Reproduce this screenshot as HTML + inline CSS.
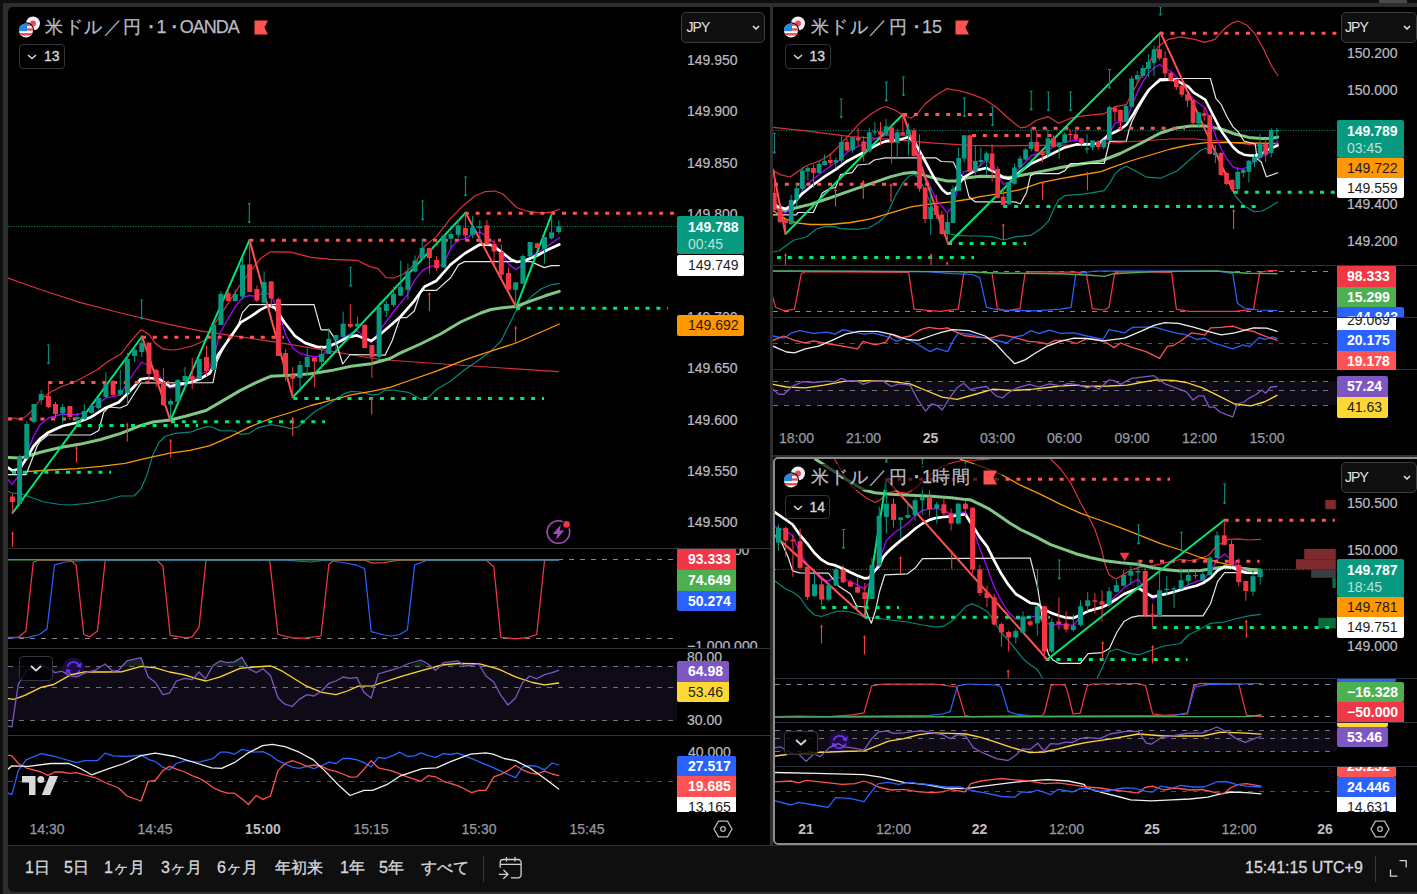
<!DOCTYPE html><html lang="ja"><head><meta charset="utf-8"><title>USDJPY chart</title><style>
*{margin:0;padding:0;box-sizing:border-box}
html,body{width:1417px;height:894px;overflow:hidden;background:#0f0f0f}
body{position:relative;font-family:"Liberation Sans",sans-serif;font-size:14px;color:#b8bbc4}
.abs{position:absolute}
.frame{left:3px;top:3px;width:1414px;height:891px;background:#2e2e2e}
.pane{background:#000}
.sep{height:1px;background:#2f3340}
.lb{position:absolute;padding-left:11px;font-size:14px;white-space:nowrap;overflow:hidden;border-radius:2px}
.rp .lb{padding-left:10px}
.ax{position:absolute;font-size:14px;color:#b9bbc1;-webkit-text-stroke:.2px #b9bbc1;white-space:nowrap;line-height:16px}
.tm{position:absolute;font-size:14px;color:#9699a3;white-space:nowrap;line-height:16px;transform:translateX(-50%);-webkit-text-stroke:.25px #9699a3}
.tm b{color:#bcbfc7;-webkit-text-stroke:0}
.title{position:absolute;font-size:18px;line-height:22px;color:#b9bbc4;white-space:nowrap;-webkit-text-stroke:.25px #b9bbc4}
.title .cj{letter-spacing:1.6px;display:inline-block;width:98px;overflow:hidden;vertical-align:top;height:22px}
.title .cj2{width:39px}
.title .la{letter-spacing:-1px}
.title i{font-style:normal;margin:0 2px 0 5.4px;font-weight:bold}
.lg{position:absolute;border:1px solid #34363e;border-radius:4px;color:#d5d7dd;font-size:14px;-webkit-text-stroke:.35px #d5d7dd;background:#000}
.jpy{position:absolute;border:1px solid #3c3c3c;border-radius:5px;background:#0f0f0f;color:#e3e5ea;font-size:14px;line-height:29px;padding-left:4.5px;letter-spacing:-.9px}
.tb{position:absolute;top:857px;font-size:16px;line-height:22px;color:#d5d7dd;white-space:nowrap;-webkit-text-stroke:.3px #d5d7dd}
</style></head><body>
<div class="abs" style="left:1379px;top:0;width:28px;height:3px;background:#4a4a4a"></div>
<div class="abs frame"></div>
<div class="abs pane" style="left:8px;top:7px;width:762px;height:838px;border-top-left-radius:5px"></div>
<div class="abs pane" style="left:773px;top:7px;width:644px;height:448px"></div>
<div class="abs pane" style="left:773px;top:457px;width:644px;height:388px"></div>
<div class="abs pane" style="left:773px;top:457px;width:650px;height:388px;border:2px solid #8c8c8c;border-radius:5px"></div>
<div class="abs" style="left:8px;top:846px;width:1409px;height:45.5px;background:#0f0f0f;border-bottom-left-radius:6px"></div>
<div class="abs sep" style="left:8px;top:548px;width:762px"></div>
<div class="abs sep" style="left:8px;top:648px;width:762px"></div>
<div class="abs sep" style="left:8px;top:735px;width:762px"></div>
<div class="abs sep" style="left:773px;top:265px;width:644px"></div>
<div class="abs sep" style="left:773px;top:317px;width:644px"></div>
<div class="abs sep" style="left:773px;top:369px;width:644px"></div>
<div class="abs sep" style="left:775px;top:678px;width:642px"></div>
<div class="abs sep" style="left:775px;top:722px;width:642px"></div>
<div class="abs sep" style="left:775px;top:766px;width:642px"></div>
<svg width="1417" height="894" viewBox="0 0 1417 894" style="position:absolute;left:0;top:0"><defs><clipPath id="cL1"><rect x="8" y="7" width="669" height="541"/></clipPath><clipPath id="cL2"><rect x="8" y="549" width="669" height="99"/></clipPath><clipPath id="cL3"><rect x="8" y="649" width="669" height="86"/></clipPath><clipPath id="cL4"><rect x="8" y="736" width="669" height="79"/></clipPath><clipPath id="cT1"><rect x="773" y="7" width="564" height="258.5"/></clipPath><clipPath id="cT2"><rect x="773" y="266" width="564" height="51"/></clipPath><clipPath id="cT3"><rect x="773" y="318" width="564" height="51.5"/></clipPath><clipPath id="cT4"><rect x="773" y="370.5" width="564" height="50"/></clipPath><clipPath id="cB1"><rect x="775" y="459" width="562" height="219"/></clipPath><clipPath id="cB2"><rect x="775" y="679" width="562" height="43"/></clipPath><clipPath id="cB3"><rect x="775" y="723" width="562" height="43.5"/></clipPath><clipPath id="cB4"><rect x="775" y="767.5" width="562" height="48"/></clipPath></defs><g clip-path="url(#cL1)"><path d="M8 226.6H677" stroke="#089981" stroke-width="1" stroke-dasharray="1 1.6"/><polyline points="8.0,418.3 14.0,418.0 20.0,419.3 26.0,416.7 32.0,410.3 40.0,400.0 52.4,391.0 60.4,387.0 76.5,381.0 96.7,370.0 108.8,361.0 120.8,354.0 131.0,340.8 141.0,329.8 149.0,334.4 155.0,342.9 163.0,348.9 171.2,350.0 180.0,349.0 192.0,346.0 204.0,341.0 214.0,324.7 226.0,306.6 240.4,284.5 249.5,272.4 260.6,258.3 270.6,251.8 290.8,252.2 311.0,257.3 331.0,259.3 357.0,260.3 370.0,266.6 378.0,268.6 386.0,277.7 394.0,278.0 404.0,273.7 414.3,264.6 424.4,246.5 436.5,236.4 450.6,218.3 462.6,206.2 474.7,196.0 484.8,191.7 494.9,191.0 503.0,194.0 511.0,202.0 517.0,207.8 527.0,211.2 541.2,213.2 551.3,212.2 559.3,209.2" fill="none" stroke="#e0303f" stroke-width="1.2" stroke-linejoin="round" stroke-linecap="round" /><polyline points="8.0,278.0 40.3,289.5 80.6,302.6 120.8,313.0 161.0,322.7 200.0,330.8 280.7,342.9 380.0,359.5 464.7,365.5 558.7,371.7" fill="none" stroke="#d92f3d" stroke-width="1.2" stroke-linejoin="round" stroke-linecap="round" /><polyline points="8.0,491.2 12.5,493.3 19.5,493.0 30.0,497.0 44.0,502.0 60.0,504.5 70.5,505.0 86.6,503.3 106.7,500.0 120.8,496.0 134.0,496.0 141.0,488.8 147.0,474.7 153.0,454.6 159.0,442.5 165.0,436.5 175.0,433.4 190.0,432.2 206.0,426.6 212.0,427.0 220.0,430.6 234.3,431.0 240.4,434.3 248.4,433.7 258.5,427.6 270.6,424.6 280.6,426.2 290.7,428.6 298.8,426.6 306.8,418.5 314.9,411.5 331.0,402.4 343.0,394.4 351.0,391.4 361.2,392.0 371.3,394.8 378.3,394.4 384.4,390.4 394.0,390.0 408.0,392.3 422.3,400.0 429.4,396.6 436.5,389.5 450.6,381.0 464.7,369.8 478.8,360.0 490.8,351.2 501.0,341.0 509.0,325.0 516.0,311.0 523.0,304.9 531.0,296.8 541.2,288.8 551.3,284.7 559.3,283.7" fill="none" stroke="#00897b" stroke-width="1.2" stroke-linejoin="round" stroke-linecap="round" /><polyline points="26.0,471.7 50.0,470.0 76.5,468.7 100.7,466.3 125.0,463.3 149.0,457.6 170.0,453.2 190.0,450.4 210.0,445.7 230.3,436.7 250.4,426.6 270.6,418.5 290.7,412.5 310.8,405.5 331.0,400.4 351.0,394.8 371.3,391.4 390.0,387.3 408.0,381.0 436.5,371.2 464.7,359.9 490.8,351.2 516.0,343.0 541.2,332.0 559.3,324.0" fill="none" stroke="#ff9800" stroke-width="1.3" stroke-linejoin="round" stroke-linecap="round" /><polyline points="8.0,457.6 20.0,458.0 26.4,456.6 40.3,452.2 60.4,447.5 80.6,444.1 100.7,439.5 120.8,433.4 141.0,425.4 153.0,422.0 170.2,420.0 185.3,416.3 206.0,410.5 220.0,402.4 240.4,390.4 256.5,382.3 270.6,376.3 290.7,375.2 310.8,373.8 331.0,370.6 351.0,366.2 371.3,363.8 390.0,358.5 400.0,353.2 420.4,344.0 440.5,334.0 460.6,322.0 480.8,313.0 490.8,309.5 501.0,308.0 516.0,306.5 531.0,300.8 545.2,295.8 559.3,291.4" fill="none" stroke="#81c784" stroke-width="3" stroke-linejoin="round" stroke-linecap="round" /><polyline points="8.0,479.8 12.0,484.4 19.5,474.7 26.4,454.6 33.4,436.5 40.3,424.4 48.3,418.0 62.4,414.0 76.5,414.7 84.6,412.3 91.2,409.3 98.3,403.8 105.3,398.2 120.2,395.2 129.0,380.0 141.6,362.0 149.0,366.0 156.0,371.0 163.0,381.0 170.0,388.0 177.0,387.0 191.0,383.0 200.0,374.0 206.0,372.0 213.0,361.0 220.0,332.8 228.0,318.7 235.4,306.6 242.4,297.5 249.5,295.5 256.5,296.5 263.6,292.5 270.6,294.5 278.7,310.6 285.7,334.8 292.8,347.9 300.8,353.9 315.0,357.0 322.0,355.0 329.0,348.9 336.0,342.9 343.0,337.8 357.0,330.4 364.3,336.8 371.3,342.9 380.0,330.0 394.0,311.0 407.3,294.8 414.3,280.7 422.4,270.6 429.4,266.6 443.5,264.6 450.6,248.5 457.6,240.4 465.7,238.4 472.7,234.4 479.8,232.0 486.8,236.4 493.9,242.4 501.0,252.5 509.0,264.6 516.0,269.6 523.0,264.6 530.0,258.5 537.2,252.5 544.2,248.5 551.3,243.4 559.3,237.4" fill="none" stroke="#aa00ff" stroke-width="1.3" stroke-linejoin="round" stroke-linecap="round" /><polyline points="8.0,474.7 26.0,474.7 37.0,446.5 40.0,441.5 48.0,435.0 90.6,435.0 98.7,430.4 103.7,412.3 108.8,407.0 120.0,408.0 127.0,405.0 141.0,383.0 213.0,382.7 217.3,361.0 228.3,338.8 238.4,324.7 242.4,312.6 249.5,304.6 314.0,304.6 321.0,329.8 329.0,329.8 335.0,338.8 342.7,364.0 350.0,354.5 385.0,355.2 392.0,341.0 400.0,318.0 407.0,317.4 414.3,311.0 420.4,292.8 423.4,290.4 436.5,290.4 450.6,277.7 458.6,264.6 464.7,261.6 531.0,261.6 544.2,267.6 551.3,265.6 559.3,265.6" fill="none" stroke="#e6e6e6" stroke-width="1.2" stroke-linejoin="round" stroke-linecap="round" stroke-linejoin="miter"/><polyline points="8.0,467.7 12.5,470.7 19.5,468.7 26.4,458.6 33.4,446.5 40.3,438.5 48.3,432.4 62.4,426.0 76.5,422.8 90.6,417.3 104.7,408.3 118.8,402.2 129.0,392.0 141.0,379.0 149.0,378.0 159.0,379.0 170.0,386.3 181.0,384.0 191.0,382.0 200.0,379.0 210.0,373.0 218.0,355.0 228.0,340.8 240.4,322.7 250.5,316.7 260.6,309.6 268.6,305.6 274.7,307.6 284.7,322.7 294.8,335.8 304.9,342.9 317.0,346.9 325.0,347.3 337.0,342.9 349.0,336.8 357.0,335.4 365.3,338.8 371.3,340.8 380.0,334.5 400.2,317.0 414.3,300.8 424.4,286.7 436.5,280.7 450.6,264.6 464.7,253.5 479.8,244.5 490.8,244.9 501.0,251.5 511.0,259.6 517.0,262.0 525.0,260.6 537.2,255.5 547.2,250.0 559.3,244.5" fill="none" stroke="#ffffff" stroke-width="2.7" stroke-linejoin="round" stroke-linecap="round" /><path d="M48.3 382.5H169.0" stroke="#ff5252" stroke-width="3" stroke-dasharray="4 6.8"/><path d="M8.0 419.0H76.5" stroke="#ff5252" stroke-width="3" stroke-dasharray="4 6.8"/><path d="M142.0 337.3H284.0" stroke="#ff5252" stroke-width="3" stroke-dasharray="4 6.8"/><path d="M249.5 240.2H501.0" stroke="#ff5252" stroke-width="3" stroke-dasharray="4 6.8"/><path d="M464.8 213.2H676.0" stroke="#ff5252" stroke-width="3" stroke-dasharray="4 6.8"/><path d="M12.0 472.3H111.0" stroke="#00e676" stroke-width="3" stroke-dasharray="4 6.8"/><path d="M77.0 425.5H198.0" stroke="#00e676" stroke-width="3" stroke-dasharray="4 6.8"/><path d="M171.0 421.7H325.0" stroke="#00e676" stroke-width="3" stroke-dasharray="4 6.8"/><path d="M293.5 398.5H544.0" stroke="#00e676" stroke-width="3" stroke-dasharray="4 6.8"/><path d="M516.0 308.3H668.0" stroke="#00e676" stroke-width="3" stroke-dasharray="4 6.8"/><polyline points="12.5,513.0 142.0,336.5" fill="none" stroke="#00e676" stroke-width="2" stroke-linejoin="round" stroke-linecap="round" /><polyline points="170.4,420.4 249.5,240.1" fill="none" stroke="#00e676" stroke-width="2" stroke-linejoin="round" stroke-linecap="round" /><polyline points="292.8,397.2 465.6,212.8" fill="none" stroke="#00e676" stroke-width="2" stroke-linejoin="round" stroke-linecap="round" /><polyline points="516.2,307.0 551.3,215.3" fill="none" stroke="#00e676" stroke-width="2" stroke-linejoin="round" stroke-linecap="round" /><polyline points="142.0,336.5 170.4,420.4" fill="none" stroke="#ff5252" stroke-width="2" stroke-linejoin="round" stroke-linecap="round" /><polyline points="249.5,240.1 292.8,397.2" fill="none" stroke="#ff5252" stroke-width="2" stroke-linejoin="round" stroke-linecap="round" /><polyline points="465.6,212.8 516.2,307.0" fill="none" stroke="#ff5252" stroke-width="2" stroke-linejoin="round" stroke-linecap="round" /><path d="M12.4 494.0V513.0" stroke="#f23645" stroke-width="1"/><rect x="9.9" y="496.5" width="5" height="5.5" fill="#f23645"/><path d="M19.6 454.6V506.5" stroke="#089981" stroke-width="1"/><rect x="17.1" y="456.6" width="5" height="47.4" fill="#089981"/><path d="M26.8 421.4V458.6" stroke="#089981" stroke-width="1"/><rect x="24.3" y="424.0" width="5" height="34.6" fill="#089981"/><path d="M34.0 404.0V423.4" stroke="#089981" stroke-width="1"/><rect x="31.5" y="404.0" width="5" height="18.0" fill="#089981"/><path d="M41.2 390.0V404.6" stroke="#089981" stroke-width="1"/><rect x="38.7" y="394.0" width="5" height="6.0" fill="#089981"/><path d="M48.4 382.0V408.0" stroke="#f23645" stroke-width="1"/><rect x="45.9" y="396.0" width="5" height="11.0" fill="#f23645"/><path d="M55.5 402.0V418.0" stroke="#f23645" stroke-width="1"/><rect x="53.0" y="404.0" width="5" height="10.0" fill="#f23645"/><path d="M62.7 404.0V423.0" stroke="#089981" stroke-width="1"/><rect x="60.2" y="407.0" width="5" height="6.0" fill="#089981"/><path d="M69.9 406.0V420.0" stroke="#f23645" stroke-width="1"/><rect x="67.4" y="406.0" width="5" height="11.0" fill="#f23645"/><path d="M77.1 413.0V425.0" stroke="#089981" stroke-width="1"/><rect x="74.6" y="417.0" width="5" height="2.0" fill="#089981"/><path d="M84.3 404.0V420.0" stroke="#089981" stroke-width="1"/><rect x="81.8" y="411.0" width="5" height="8.0" fill="#089981"/><path d="M91.5 405.0V413.5" stroke="#089981" stroke-width="1"/><rect x="89.0" y="406.0" width="5" height="7.0" fill="#089981"/><path d="M98.7 397.0V410.0" stroke="#089981" stroke-width="1"/><rect x="96.2" y="398.0" width="5" height="10.0" fill="#089981"/><path d="M105.9 372.0V398.0" stroke="#089981" stroke-width="1"/><rect x="103.4" y="383.7" width="5" height="13.3" fill="#089981"/><path d="M113.1 380.0V396.0" stroke="#f23645" stroke-width="1"/><rect x="110.6" y="381.0" width="5" height="14.0" fill="#f23645"/><path d="M120.3 370.0V395.0" stroke="#089981" stroke-width="1"/><rect x="117.8" y="390.0" width="5" height="4.6" fill="#089981"/><path d="M127.4 353.0V404.0" stroke="#089981" stroke-width="1"/><rect x="124.9" y="359.0" width="5" height="34.0" fill="#089981"/><path d="M134.6 347.0V362.0" stroke="#089981" stroke-width="1"/><rect x="132.1" y="350.0" width="5" height="6.0" fill="#089981"/><path d="M141.8 337.0V357.0" stroke="#089981" stroke-width="1"/><rect x="139.3" y="343.0" width="5" height="9.0" fill="#089981"/><path d="M149.0 342.5V381.0" stroke="#f23645" stroke-width="1"/><rect x="146.5" y="342.5" width="5" height="31.5" fill="#f23645"/><path d="M156.2 369.0V387.0" stroke="#f23645" stroke-width="1"/><rect x="153.7" y="370.0" width="5" height="11.0" fill="#f23645"/><path d="M163.4 368.0V406.0" stroke="#f23645" stroke-width="1"/><rect x="160.9" y="382.0" width="5" height="23.0" fill="#f23645"/><path d="M170.6 399.0V420.0" stroke="#089981" stroke-width="1"/><rect x="168.1" y="401.0" width="5" height="3.5" fill="#089981"/><path d="M177.8 379.0V402.0" stroke="#089981" stroke-width="1"/><rect x="175.3" y="380.0" width="5" height="22.0" fill="#089981"/><path d="M185.0 367.0V388.0" stroke="#089981" stroke-width="1"/><rect x="182.5" y="376.0" width="5" height="5.0" fill="#089981"/><path d="M192.2 358.0V389.0" stroke="#f23645" stroke-width="1"/><rect x="189.7" y="376.0" width="5" height="4.0" fill="#f23645"/><path d="M199.3 359.0V379.0" stroke="#089981" stroke-width="1"/><rect x="196.8" y="359.0" width="5" height="20.0" fill="#089981"/><path d="M206.5 346.0V376.0" stroke="#f23645" stroke-width="1"/><rect x="204.0" y="357.0" width="5" height="14.0" fill="#f23645"/><path d="M213.7 324.7V370.0" stroke="#089981" stroke-width="1"/><rect x="211.2" y="324.7" width="5" height="45.3" fill="#089981"/><path d="M220.9 291.0V325.0" stroke="#089981" stroke-width="1"/><rect x="218.4" y="294.0" width="5" height="31.0" fill="#089981"/><path d="M228.1 287.5V301.0" stroke="#f23645" stroke-width="1"/><rect x="225.6" y="293.0" width="5" height="8.0" fill="#f23645"/><path d="M235.3 289.5V301.0" stroke="#089981" stroke-width="1"/><rect x="232.8" y="294.0" width="5" height="7.0" fill="#089981"/><path d="M242.5 258.0V299.5" stroke="#089981" stroke-width="1"/><rect x="240.0" y="264.7" width="5" height="31.8" fill="#089981"/><path d="M249.7 240.0V292.0" stroke="#f23645" stroke-width="1"/><rect x="247.2" y="264.3" width="5" height="27.7" fill="#f23645"/><path d="M256.9 285.5V302.0" stroke="#f23645" stroke-width="1"/><rect x="254.4" y="289.0" width="5" height="11.6" fill="#f23645"/><path d="M264.1 271.4V303.6" stroke="#089981" stroke-width="1"/><rect x="261.6" y="282.0" width="5" height="20.6" fill="#089981"/><path d="M271.2 281.4V307.6" stroke="#f23645" stroke-width="1"/><rect x="268.7" y="281.4" width="5" height="17.1" fill="#f23645"/><path d="M278.4 297.5V356.0" stroke="#f23645" stroke-width="1"/><rect x="275.9" y="299.0" width="5" height="57.0" fill="#f23645"/><path d="M285.6 349.0V381.0" stroke="#f23645" stroke-width="1"/><rect x="283.1" y="353.0" width="5" height="21.0" fill="#f23645"/><path d="M292.8 367.0V397.0" stroke="#f23645" stroke-width="1"/><rect x="290.3" y="375.0" width="5" height="3.7" fill="#f23645"/><path d="M300.0 361.0V391.0" stroke="#089981" stroke-width="1"/><rect x="297.5" y="365.0" width="5" height="13.0" fill="#089981"/><path d="M307.2 348.0V375.0" stroke="#089981" stroke-width="1"/><rect x="304.7" y="357.0" width="5" height="10.0" fill="#089981"/><path d="M314.4 357.6V387.0" stroke="#f23645" stroke-width="1"/><rect x="311.9" y="357.6" width="5" height="4.0" fill="#f23645"/><path d="M321.6 347.0V369.0" stroke="#089981" stroke-width="1"/><rect x="319.1" y="354.0" width="5" height="8.0" fill="#089981"/><path d="M328.8 327.8V354.0" stroke="#089981" stroke-width="1"/><rect x="326.3" y="338.8" width="5" height="15.2" fill="#089981"/><path d="M335.9 335.0V351.0" stroke="#089981" stroke-width="1"/><rect x="333.4" y="335.0" width="5" height="5.0" fill="#089981"/><path d="M343.1 311.6V336.8" stroke="#089981" stroke-width="1"/><rect x="340.6" y="323.7" width="5" height="13.1" fill="#089981"/><path d="M350.3 304.0V328.0" stroke="#f23645" stroke-width="1"/><rect x="347.8" y="324.0" width="5" height="2.7" fill="#f23645"/><path d="M357.5 316.7V330.0" stroke="#089981" stroke-width="1"/><rect x="355.0" y="323.7" width="5" height="3.0" fill="#089981"/><path d="M364.7 324.7V348.0" stroke="#f23645" stroke-width="1"/><rect x="362.2" y="324.7" width="5" height="23.3" fill="#f23645"/><path d="M371.9 345.0V378.0" stroke="#f23645" stroke-width="1"/><rect x="369.4" y="345.0" width="5" height="12.0" fill="#f23645"/><path d="M379.1 302.6V359.0" stroke="#089981" stroke-width="1"/><rect x="376.6" y="307.0" width="5" height="50.0" fill="#089981"/><path d="M386.3 301.0V317.0" stroke="#089981" stroke-width="1"/><rect x="383.8" y="304.0" width="5" height="7.0" fill="#089981"/><path d="M393.5 286.7V307.0" stroke="#089981" stroke-width="1"/><rect x="391.0" y="293.8" width="5" height="11.2" fill="#089981"/><path d="M400.7 260.6V295.8" stroke="#089981" stroke-width="1"/><rect x="398.2" y="286.7" width="5" height="9.1" fill="#089981"/><path d="M407.9 263.6V300.0" stroke="#089981" stroke-width="1"/><rect x="405.4" y="271.6" width="5" height="18.2" fill="#089981"/><path d="M415.0 255.5V272.6" stroke="#089981" stroke-width="1"/><rect x="412.5" y="260.6" width="5" height="11.0" fill="#089981"/><path d="M422.2 238.4V259.5" stroke="#089981" stroke-width="1"/><rect x="419.7" y="248.0" width="5" height="11.0" fill="#089981"/><path d="M429.4 248.0V273.7" stroke="#f23645" stroke-width="1"/><rect x="426.9" y="248.0" width="5" height="10.0" fill="#f23645"/><path d="M436.6 256.0V271.0" stroke="#f23645" stroke-width="1"/><rect x="434.1" y="260.0" width="5" height="8.2" fill="#f23645"/><path d="M443.8 235.4V267.6" stroke="#089981" stroke-width="1"/><rect x="441.3" y="235.4" width="5" height="32.2" fill="#089981"/><path d="M451.0 231.4V247.5" stroke="#089981" stroke-width="1"/><rect x="448.5" y="234.0" width="5" height="4.8" fill="#089981"/><path d="M458.2 219.0V238.4" stroke="#089981" stroke-width="1"/><rect x="455.7" y="225.3" width="5" height="9.5" fill="#089981"/><path d="M465.4 213.0V241.4" stroke="#f23645" stroke-width="1"/><rect x="462.9" y="228.0" width="5" height="7.4" fill="#f23645"/><path d="M472.6 215.9V238.4" stroke="#089981" stroke-width="1"/><rect x="470.1" y="227.3" width="5" height="7.5" fill="#089981"/><path d="M479.8 219.9V242.4" stroke="#089981" stroke-width="1"/><rect x="477.2" y="226.3" width="5" height="1.7" fill="#089981"/><path d="M486.9 220.0V245.5" stroke="#f23645" stroke-width="1"/><rect x="484.4" y="225.3" width="5" height="19.2" fill="#f23645"/><path d="M494.1 239.4V265.6" stroke="#f23645" stroke-width="1"/><rect x="491.6" y="244.0" width="5" height="7.5" fill="#f23645"/><path d="M501.3 244.5V277.7" stroke="#f23645" stroke-width="1"/><rect x="498.8" y="252.0" width="5" height="22.7" fill="#f23645"/><path d="M508.5 267.6V290.4" stroke="#f23645" stroke-width="1"/><rect x="506.0" y="273.0" width="5" height="16.8" fill="#f23645"/><path d="M515.7 282.3V306.9" stroke="#089981" stroke-width="1"/><rect x="513.2" y="282.3" width="5" height="7.5" fill="#089981"/><path d="M522.9 254.0V283.7" stroke="#089981" stroke-width="1"/><rect x="520.4" y="256.0" width="5" height="27.7" fill="#089981"/><path d="M530.1 242.0V256.5" stroke="#089981" stroke-width="1"/><rect x="527.6" y="242.0" width="5" height="14.5" fill="#089981"/><path d="M537.3 242.4V251.5" stroke="#f23645" stroke-width="1"/><rect x="534.8" y="243.4" width="5" height="4.6" fill="#f23645"/><path d="M544.5 237.0V263.6" stroke="#089981" stroke-width="1"/><rect x="542.0" y="237.0" width="5" height="11.9" fill="#089981"/><path d="M551.6 215.2V239.4" stroke="#089981" stroke-width="1"/><rect x="549.1" y="232.4" width="5" height="6.0" fill="#089981"/><path d="M558.8 220.3V234.0" stroke="#089981" stroke-width="1"/><rect x="556.3" y="226.3" width="5" height="5.7" fill="#089981"/><path d="M48.5 345.0V363.0M47.0 345.0h3" stroke="#0a8a80" stroke-width="1.1"/><circle cx="48.5" cy="363.0" r="1.3" fill="#0a8a80"/><path d="M141.6 300.0V318.3M140.1 300.0h3" stroke="#0a8a80" stroke-width="1.1"/><circle cx="141.6" cy="318.3" r="1.3" fill="#0a8a80"/><path d="M249.3 203.6V222.0M247.8 203.6h3" stroke="#0a8a80" stroke-width="1.1"/><circle cx="249.3" cy="222.0" r="1.3" fill="#0a8a80"/><path d="M350.6 267.3V285.5M349.1 267.3h3" stroke="#0a8a80" stroke-width="1.1"/><circle cx="350.6" cy="285.5" r="1.3" fill="#0a8a80"/><path d="M422.6 201.0V219.3M421.1 201.0h3" stroke="#0a8a80" stroke-width="1.1"/><circle cx="422.6" cy="219.3" r="1.3" fill="#0a8a80"/><path d="M465.5 177.0V195.0M464.0 177.0h3" stroke="#0a8a80" stroke-width="1.1"/><circle cx="465.5" cy="195.0" r="1.3" fill="#0a8a80"/><path d="M12.5 532.0V547.0" stroke="#f44336" stroke-width="1.1"/><path d="M11.1 534.2L12.5 531.4L13.9 534.2Z" fill="#f44336"/><path d="M76.5 446.5V462.6" stroke="#f44336" stroke-width="1.1"/><path d="M75.1 448.7L76.5 445.9L77.9 448.7Z" fill="#f44336"/><path d="M127.3 423.4V441.5" stroke="#f44336" stroke-width="1.1"/><path d="M125.9 425.6L127.3 422.8L128.7 425.6Z" fill="#f44336"/><path d="M170.6 439.5V457.6" stroke="#f44336" stroke-width="1.1"/><path d="M169.2 441.7L170.6 438.9L172.0 441.7Z" fill="#f44336"/><path d="M292.7 417.5V435.7" stroke="#f44336" stroke-width="1.1"/><path d="M291.3 419.7L292.7 416.9L294.1 419.7Z" fill="#f44336"/><path d="M371.7 397.4V414.5" stroke="#f44336" stroke-width="1.1"/><path d="M370.3 399.6L371.7 396.8L373.1 399.6Z" fill="#f44336"/><path d="M429.4 292.8V311.0" stroke="#f44336" stroke-width="1.1"/><path d="M428.0 295.0L429.4 292.2L430.8 295.0Z" fill="#f44336"/><path d="M515.6 326.6V344.0" stroke="#f44336" stroke-width="1.1"/><path d="M514.2 328.8L515.6 326.0L517.0 328.8Z" fill="#f44336"/><circle cx="558.4" cy="532" r="11.3" fill="none" stroke="#ab47bc" stroke-width="1.5"/><path d="M561 524.5L552.8 534h4.6l-1.4 6 8.2-9.5h-4.6z" fill="#ab47bc"/><circle cx="566.6" cy="524.4" r="4.6" fill="#000"/><circle cx="566.6" cy="524.4" r="3.3" fill="#f23645"/></g><g clip-path="url(#cL2)"><path d="M8 559.5H673" stroke="#83868f" stroke-width="1" stroke-dasharray="5 6" shape-rendering="crispEdges"/><path d="M8 638.5H673" stroke="#83868f" stroke-width="1" stroke-dasharray="5 6" shape-rendering="crispEdges"/><polyline points="8.0,637.3 18.3,637.3 26.0,630.9 33.3,562.0 39.5,560.0 70.6,560.0 76.2,565.4 83.8,634.5 89.8,636.8 97.4,630.9 105.3,560.0 156.7,560.0 162.9,566.0 170.2,635.4 186.3,637.9 192.0,636.8 199.0,627.5 206.0,560.0 269.6,560.0 278.0,634.5 293.6,638.2 304.9,638.2 321.0,636.0 328.9,564.0 334.5,560.0 364.0,560.0 372.6,563.1 384.0,562.6 400.0,560.0 485.9,560.0 493.8,566.8 500.8,637.3 515.5,638.8 528.2,637.3 536.7,634.5 544.6,560.0 558.7,559.8" fill="none" stroke="#f23645" stroke-width="1.25" stroke-linejoin="round" stroke-linecap="round" /><polyline points="8.0,638.0 28.2,637.3 39.5,634.5 47.0,629.0 54.5,564.8 65.0,562.0 90.3,560.0 282.3,560.0 310.5,562.0 327.5,560.0 338.7,562.0 355.7,564.8 364.7,568.8 371.2,631.7 384.0,635.0 391.3,636.0 399.8,634.5 407.4,629.7 414.7,564.8 428.0,560.0 558.7,560.0" fill="none" stroke="#2962ff" stroke-width="1.25" stroke-linejoin="round" stroke-linecap="round" /><polyline points="8.0,559.8 558.7,559.8" fill="none" stroke="#43a047" stroke-width="1.4" stroke-linejoin="round" stroke-linecap="round" /></g><g clip-path="url(#cL3)"><rect x="8" y="666" width="669" height="54.5" fill="#0e0a16"/><path d="M8 666.5H673" stroke="#70737d" stroke-width="1" stroke-dasharray="5 6" shape-rendering="crispEdges"/><path d="M8 687.5H673" stroke="#70737d" stroke-width="1" stroke-dasharray="5 6" shape-rendering="crispEdges"/><path d="M8 720.5H673" stroke="#70737d" stroke-width="1" stroke-dasharray="5 6" shape-rendering="crispEdges"/><circle cx="73.6" cy="668.3" r="10.6" fill="#1b0c3d"/><path d="M67.61 666.70A6.2 6.2 0 0 1 79.22 665.68M79.59 669.90A6.2 6.2 0 0 1 67.98 670.92" fill="none" stroke="#6b2ff5" stroke-width="1.8"/><path d="M81.82 662.48L80.82 667.88L75.82 666.08Z" fill="#6b2ff5"/><path d="M65.38 674.12L66.38 668.72L71.38 670.52Z" fill="#6b2ff5"/><path d="M120.5 666L127 660.8L141 657.7L143.8 666ZM213.5 666L220.2 660.8L227.2 662.7L234.3 661.9L242 657.4L247 666ZM410 666L421 660L426 666ZM439 666L443.5 662.7L457.6 660.8L464.7 666Z" fill="#10261a"/><polyline points="8.0,698.6 14.0,699.4 25.4,695.2 41.0,687.3 53.6,684.5 70.6,674.9 84.7,671.8 104.4,672.0 121.4,671.8 141.0,666.4 155.3,667.8 169.4,672.0 183.5,674.6 197.6,678.8 206.0,681.0 220.2,676.9 240.0,668.4 254.0,667.0 271.0,666.0 282.3,671.2 304.9,685.3 321.8,692.4 336.0,694.6 347.2,691.0 358.5,686.2 372.6,685.9 384.0,682.0 399.8,676.9 422.3,670.4 442.0,665.0 459.0,663.3 478.8,663.6 498.6,669.2 515.5,676.9 532.4,682.5 544.6,684.8 558.7,683.0" fill="none" stroke="#fdd835" stroke-width="1.3" stroke-linejoin="round" stroke-linecap="round" /><polyline points="8.0,726.2 11.9,726.8 18.3,684.0 26.8,670.4 41.0,664.0 55.0,672.6 62.0,671.2 69.0,675.4 76.2,676.9 84.7,673.2 96.0,669.8 105.0,664.0 113.0,671.2 118.6,670.4 127.0,660.8 141.0,657.7 148.2,676.9 155.3,682.5 162.9,694.6 169.4,693.2 176.4,681.0 184.9,678.3 192.0,679.7 199.0,672.0 205.5,678.8 213.0,665.6 220.2,660.8 227.2,662.7 234.3,661.9 242.0,657.4 248.4,668.4 256.3,672.6 263.0,668.7 270.4,675.4 278.0,698.0 285.0,704.2 292.2,706.5 299.2,699.4 307.0,694.6 314.0,696.0 321.8,691.0 328.9,683.3 336.0,681.0 343.0,677.0 350.0,678.3 357.0,677.4 364.0,692.4 371.2,698.0 378.3,674.0 389.6,670.6 399.8,667.5 407.4,664.0 421.0,660.0 428.0,664.0 435.6,670.4 443.5,662.7 457.6,660.8 464.7,666.0 478.8,664.0 485.9,676.0 493.8,682.0 500.8,695.2 507.9,705.0 515.5,698.0 522.6,682.5 529.6,676.0 536.7,678.8 544.6,674.6 552.2,672.6 558.7,670.4" fill="none" stroke="#7e57c2" stroke-width="1.3" stroke-linejoin="round" stroke-linecap="round" /></g><g clip-path="url(#cL4)"><path d="M8 781.5H673" stroke="#4e515b" stroke-width="1" stroke-dasharray="5 6" shape-rendering="crispEdges"/><polyline points="8.0,793.2 11.9,794.6 18.3,770.6 26.0,759.9 41.0,753.7 55.0,756.5 76.2,762.7 84.7,760.7 97.4,760.7 105.0,753.1 113.0,755.9 127.0,756.5 141.0,755.1 148.2,759.3 155.3,761.6 162.9,767.2 169.4,770.0 176.4,763.5 184.9,760.7 199.0,762.1 213.0,758.7 220.2,752.2 227.2,752.2 234.3,754.2 242.0,749.4 254.0,752.2 263.0,751.7 270.4,755.1 278.0,760.7 292.2,767.2 299.2,768.3 307.0,766.4 314.0,768.6 321.8,765.5 328.9,762.1 336.0,763.5 343.0,758.5 350.0,758.5 357.0,759.9 364.0,762.7 371.2,766.9 378.3,757.3 385.3,758.5 393.8,755.1 399.8,752.2 407.4,756.5 414.7,755.9 421.0,752.8 428.0,755.6 435.6,757.3 443.5,753.7 450.6,754.5 457.6,753.1 464.7,755.6 478.8,761.6 493.8,767.8 507.9,774.3 515.5,777.7 522.6,767.2 529.6,765.5 536.7,766.4 544.6,769.8 552.2,763.0 558.7,765.0" fill="none" stroke="#2962ff" stroke-width="1.3" stroke-linejoin="round" stroke-linecap="round" /><polyline points="8.0,755.1 11.9,755.9 18.3,763.5 26.0,767.8 41.0,772.0 48.0,775.4 55.0,772.0 62.0,772.0 69.0,773.4 76.2,772.6 84.7,774.8 97.4,778.5 105.0,782.5 118.6,788.0 127.0,796.0 141.0,801.0 148.2,781.3 155.3,780.5 162.9,770.6 169.4,766.4 176.4,769.2 184.9,772.0 192.0,775.7 199.0,778.2 205.5,781.9 213.0,787.5 220.2,790.9 227.2,793.2 234.3,793.2 242.0,798.8 248.4,804.5 256.3,795.5 263.0,799.4 270.4,796.0 278.0,770.6 285.0,763.5 292.2,760.7 299.2,763.0 307.0,766.4 314.0,765.0 321.8,766.4 328.9,769.8 336.0,771.4 343.0,774.0 350.0,777.1 357.0,776.8 364.0,769.2 371.2,760.7 378.3,767.8 392.7,771.2 407.4,776.8 421.0,781.3 428.0,775.7 435.6,776.8 443.5,781.3 457.6,785.6 464.7,789.0 471.7,792.6 478.8,790.4 485.9,790.4 493.8,776.8 500.8,774.3 507.9,770.6 515.5,765.5 522.6,769.8 529.6,772.9 536.7,774.0 544.6,771.2 552.2,774.0 558.7,775.7" fill="none" stroke="#ff5252" stroke-width="1.3" stroke-linejoin="round" stroke-linecap="round" /><polyline points="8.0,769.2 11.9,765.8 28.2,766.4 50.8,763.5 69.0,763.5 79.0,767.8 91.7,774.8 107.3,769.2 124.2,763.5 141.0,755.6 155.3,753.1 175.0,756.5 197.6,763.5 211.7,767.8 221.6,768.3 234.3,762.7 248.4,752.8 262.5,745.7 272.4,744.3 285.0,746.6 299.2,752.2 313.3,759.9 324.6,770.6 338.7,785.3 350.0,795.5 364.0,790.4 372.6,790.4 386.7,784.7 399.8,776.2 422.3,768.6 436.5,767.8 450.6,761.6 470.3,754.2 485.9,752.8 493.0,754.2 504.2,758.5 515.5,760.7 529.6,767.8 543.7,777.7 558.7,789.0" fill="none" stroke="#f0f0f0" stroke-width="1.3" stroke-linejoin="round" stroke-linecap="round" /></g><g clip-path="url(#cT1)"><path d="M773 130.4H1337" stroke="#089981" stroke-width="1" stroke-dasharray="1 1.6"/><polyline points="773.0,170.6 780.0,174.6 790.0,177.0 798.0,171.6 806.0,166.0 820.4,160.5 830.4,154.5 840.5,144.4 850.6,133.3 860.6,122.2 870.7,114.2 880.8,108.0 885.8,106.5 894.9,110.0 903.0,115.2 911.0,118.2 917.0,114.2 925.0,104.0 935.0,96.0 943.2,91.0 946.8,88.7 960.0,91.0 972.0,94.4 984.0,99.0 996.0,107.0 1008.3,118.2 1020.4,127.9 1026.5,126.9 1036.5,120.2 1047.8,116.6 1058.7,123.2 1070.8,118.2 1082.9,115.8 1101.0,113.8 1104.0,113.8 1115.2,106.7 1126.3,104.7 1132.3,92.6 1142.4,74.5 1150.4,60.4 1158.5,46.3 1168.5,39.3 1180.6,36.9 1194.7,39.3 1204.8,42.3 1214.9,39.3 1225.0,28.2 1233.0,22.6 1238.0,21.0 1247.0,25.2 1255.2,34.2 1263.2,48.3 1271.3,65.5 1277.7,75.5" fill="none" stroke="#e0303f" stroke-width="1.2" stroke-linejoin="round" stroke-linecap="round" /><polyline points="773.0,127.3 810.3,131.3 850.6,136.7 890.8,139.3 931.0,142.8 970.0,145.4 1000.3,145.8 1040.6,145.4 1080.8,144.8 1110.0,143.0 1140.4,141.0 1170.6,139.0 1194.7,139.0 1221.0,141.0 1251.0,144.6 1277.7,147.0" fill="none" stroke="#d92f3d" stroke-width="1.2" stroke-linejoin="round" stroke-linecap="round" /><polyline points="773.0,252.0 779.0,251.0 785.5,246.0 794.2,240.0 806.3,237.0 816.3,229.0 824.4,226.6 834.5,226.6 840.5,228.6 856.6,229.4 868.7,228.0 878.8,222.0 886.8,214.9 894.9,196.7 903.0,182.6 909.0,176.2 914.2,174.2 919.2,178.6 925.3,190.7 931.3,204.8 936.4,214.9 942.4,229.0 949.3,234.0 957.3,235.4 970.0,236.0 980.0,236.0 992.2,236.6 1003.3,240.0 1016.4,236.6 1030.5,235.4 1040.6,229.0 1048.6,220.9 1054.7,206.8 1058.7,199.8 1064.7,195.7 1080.8,194.3 1093.0,192.7 1104.2,190.7 1109.4,183.7 1115.3,173.6 1120.2,169.2 1126.3,166.2 1136.3,171.2 1146.4,177.2 1160.5,178.2 1176.6,171.2 1190.7,159.0 1199.8,151.0 1205.8,148.0 1210.9,152.0 1215.6,152.0 1220.7,164.6 1227.2,180.0 1235.0,195.5 1244.0,205.8 1254.2,211.7 1262.0,211.0 1269.6,207.0 1277.6,202.0" fill="none" stroke="#00897b" stroke-width="1.2" stroke-linejoin="round" stroke-linecap="round" /><polyline points="773.0,210.8 785.5,218.9 796.6,222.9 810.3,224.5 830.4,224.5 850.6,222.5 870.7,218.9 890.8,212.9 911.0,206.8 931.0,203.8 951.3,201.8 970.0,199.0 980.0,196.7 1000.3,193.7 1020.4,189.7 1040.6,182.6 1060.7,178.6 1080.8,175.0 1101.0,171.6 1110.0,168.2 1130.3,161.0 1150.4,155.0 1170.6,149.0 1190.7,144.6 1206.8,142.6 1231.0,142.6 1251.0,143.0 1277.7,143.4" fill="none" stroke="#ff9800" stroke-width="1.3" stroke-linejoin="round" stroke-linecap="round" /><polyline points="773.0,205.8 785.5,210.8 796.2,207.8 810.3,204.4 830.4,197.8 850.6,190.7 870.7,183.7 890.8,176.6 903.0,173.6 914.2,172.2 925.3,175.6 936.4,178.6 947.2,181.0 955.3,181.0 963.4,178.6 970.0,177.6 980.0,176.2 997.7,176.6 1009.0,177.6 1020.4,175.6 1040.6,171.6 1060.7,167.5 1080.8,164.0 1101.0,161.0 1120.2,153.5 1140.4,143.5 1160.5,133.0 1176.6,127.9 1190.7,125.9 1204.8,125.9 1221.0,129.0 1235.0,134.0 1249.0,137.4 1261.2,138.6 1271.3,138.6 1277.7,137.0" fill="none" stroke="#81c784" stroke-width="3" stroke-linejoin="round" stroke-linecap="round" /><polyline points="773.0,206.8 780.0,210.8 785.5,212.9 791.0,208.8 796.6,200.8 802.2,190.7 807.7,183.7 818.9,174.6 830.0,166.5 841.0,159.5 846.7,152.4 857.8,146.4 868.9,142.0 880.0,136.7 891.0,134.7 903.0,135.3 911.0,136.0 916.0,142.4 919.2,156.5 925.3,176.6 931.3,188.7 936.4,199.8 942.4,206.8 947.2,212.9 953.3,205.8 958.3,186.7 963.4,171.6 970.0,170.6 975.3,170.2 981.0,164.5 986.4,160.5 992.2,163.5 997.7,174.6 1003.3,184.3 1009.0,182.6 1014.4,173.6 1020.0,167.5 1025.7,162.0 1031.3,155.5 1042.6,152.8 1048.2,150.0 1053.9,146.4 1064.9,142.0 1076.2,140.0 1087.5,144.0 1098.6,144.4 1104.2,143.4 1109.5,133.0 1115.2,122.9 1126.3,120.8 1132.3,104.7 1137.7,91.6 1143.4,80.6 1149.0,72.5 1154.5,67.5 1160.0,64.5 1165.5,68.5 1171.2,71.5 1177.0,77.5 1182.6,84.6 1188.3,92.6 1193.7,99.7 1199.4,103.7 1205.2,107.8 1210.4,120.8 1216.0,137.0 1221.3,149.0 1227.0,159.0 1233.0,166.8 1238.4,168.8 1244.0,168.8 1249.5,165.2 1255.2,161.0 1260.6,156.0 1266.4,155.0 1272.3,150.0 1277.7,141.0" fill="none" stroke="#aa00ff" stroke-width="1.3" stroke-linejoin="round" stroke-linecap="round" /><polyline points="773.0,214.9 796.0,214.9 798.0,212.5 813.3,212.5 822.4,192.7 830.4,188.3 835.5,187.7 840.5,174.6 852.2,172.6 857.8,165.0 868.9,164.0 874.3,160.0 885.4,157.9 936.2,157.9 941.2,161.5 953.3,162.0 957.3,170.6 964.4,178.6 969.0,196.7 975.0,201.8 1014.4,201.8 1020.4,203.8 1026.5,192.7 1030.5,175.6 1034.5,173.6 1058.7,173.6 1064.9,170.6 1070.6,163.5 1104.2,163.5 1109.5,141.4 1126.3,141.0 1129.3,129.0 1132.3,120.8 1137.7,110.0 1143.4,100.0 1149.0,91.0 1154.5,84.0 1160.0,78.5 1210.4,78.5 1216.0,98.7 1221.3,104.7 1227.0,116.8 1233.0,126.9 1238.4,132.0 1244.0,141.0 1255.2,144.0 1257.2,159.0 1261.2,162.0 1266.4,176.8 1277.7,172.8" fill="none" stroke="#e6e6e6" stroke-width="1.2" stroke-linejoin="round" stroke-linecap="round" stroke-linejoin="miter"/><polyline points="773.0,202.8 778.0,206.8 785.5,208.8 791.0,205.8 796.6,199.8 802.2,193.7 813.3,184.7 824.4,176.6 835.5,169.6 846.5,161.5 857.8,155.5 868.9,149.4 880.0,143.4 885.4,141.4 896.5,140.4 908.2,137.3 914.2,141.4 919.2,150.4 925.3,161.5 931.3,172.6 936.4,181.6 942.4,189.7 947.2,193.7 953.3,192.7 958.3,184.7 964.4,177.0 975.3,170.6 986.4,168.0 997.7,173.6 1003.3,177.6 1009.0,178.6 1014.4,176.6 1020.0,171.6 1031.3,163.5 1042.6,158.5 1053.9,152.8 1064.9,147.4 1076.2,144.4 1087.5,144.4 1098.6,143.4 1104.0,139.0 1109.0,134.5 1115.2,132.0 1120.8,129.0 1126.3,124.9 1132.3,115.8 1137.7,106.7 1143.4,97.7 1149.0,89.6 1154.5,84.6 1160.0,80.2 1171.2,79.6 1178.6,81.6 1188.3,86.6 1193.7,92.6 1205.2,99.7 1210.4,109.8 1216.0,120.8 1221.3,131.0 1227.0,139.0 1233.0,147.0 1238.4,152.0 1244.0,154.7 1249.5,155.5 1255.2,155.5 1261.2,154.0 1267.2,150.0 1277.7,145.4" fill="none" stroke="#ffffff" stroke-width="2.6" stroke-linejoin="round" stroke-linecap="round" /><path d="M774.0 184.3H929.0" stroke="#ff5252" stroke-width="3" stroke-dasharray="4 6.8"/><path d="M903.0 114.6H992.0" stroke="#ff5252" stroke-width="3" stroke-dasharray="4 6.8"/><path d="M972.0 135.5H1055.0" stroke="#ff5252" stroke-width="3" stroke-dasharray="4 6.8"/><path d="M1032.0 128.3H1185.0" stroke="#ff5252" stroke-width="3" stroke-dasharray="4 6.8"/><path d="M1159.6 33.2H1338.0" stroke="#ff5252" stroke-width="3" stroke-dasharray="4 6.8"/><path d="M777.0 257.6H974.0" stroke="#00e676" stroke-width="3" stroke-dasharray="4 6.8"/><path d="M948.0 243.5H1026.0" stroke="#00e676" stroke-width="3" stroke-dasharray="4 6.8"/><path d="M1003.3 206.4H1256.0" stroke="#00e676" stroke-width="3" stroke-dasharray="4 6.8"/><path d="M1233.6 192.3H1336.0" stroke="#00e676" stroke-width="3" stroke-dasharray="4 6.8"/><polyline points="785.5,234.0 903.0,114.2" fill="none" stroke="#00e676" stroke-width="2" stroke-linejoin="round" stroke-linecap="round" /><polyline points="948.2,244.0 1160.5,32.6" fill="none" stroke="#00e676" stroke-width="2" stroke-linejoin="round" stroke-linecap="round" /><polyline points="773.0,169.6 785.5,234.0" fill="none" stroke="#ff5252" stroke-width="2" stroke-linejoin="round" stroke-linecap="round" /><polyline points="903.0,114.2 948.2,244.0" fill="none" stroke="#ff5252" stroke-width="2" stroke-linejoin="round" stroke-linecap="round" /><polyline points="1160.5,32.6 1233.6,191.6" fill="none" stroke="#ff5252" stroke-width="2" stroke-linejoin="round" stroke-linecap="round" /><path d="M774.4 170.6V210.8" stroke="#f23645" stroke-width="1"/><rect x="772.0" y="192.7" width="4.7" height="17.1" fill="#f23645"/><path d="M780.0 207.8V223.0" stroke="#f23645" stroke-width="1"/><rect x="777.6" y="208.8" width="4.7" height="13.2" fill="#f23645"/><path d="M785.6 219.0V234.0" stroke="#f23645" stroke-width="1"/><rect x="783.2" y="219.0" width="4.7" height="4.0" fill="#f23645"/><path d="M791.1 194.7V225.0" stroke="#089981" stroke-width="1"/><rect x="788.8" y="199.8" width="4.7" height="24.2" fill="#089981"/><path d="M796.7 183.7V206.8" stroke="#089981" stroke-width="1"/><rect x="794.4" y="188.3" width="4.7" height="11.5" fill="#089981"/><path d="M802.3 167.5V190.7" stroke="#089981" stroke-width="1"/><rect x="800.0" y="170.6" width="4.7" height="18.1" fill="#089981"/><path d="M807.9 166.5V180.6" stroke="#089981" stroke-width="1"/><rect x="805.5" y="168.0" width="4.7" height="3.6" fill="#089981"/><path d="M813.5 164.5V187.7" stroke="#f23645" stroke-width="1"/><rect x="811.1" y="168.0" width="4.7" height="5.0" fill="#f23645"/><path d="M819.1 160.5V173.6" stroke="#089981" stroke-width="1"/><rect x="816.7" y="164.0" width="4.7" height="9.0" fill="#089981"/><path d="M824.6 154.5V165.5" stroke="#089981" stroke-width="1"/><rect x="822.3" y="160.9" width="4.7" height="4.1" fill="#089981"/><path d="M830.2 153.4V165.5" stroke="#f23645" stroke-width="1"/><rect x="827.9" y="160.0" width="4.7" height="3.0" fill="#f23645"/><path d="M835.8 157.5V168.5" stroke="#089981" stroke-width="1"/><rect x="833.5" y="160.0" width="4.7" height="2.5" fill="#089981"/><path d="M841.4 136.0V164.5" stroke="#089981" stroke-width="1"/><rect x="839.0" y="142.0" width="4.7" height="18.5" fill="#089981"/><path d="M847.0 138.3V151.4" stroke="#f23645" stroke-width="1"/><rect x="844.6" y="142.0" width="4.7" height="8.4" fill="#f23645"/><path d="M852.5 137.3V152.8" stroke="#089981" stroke-width="1"/><rect x="850.2" y="137.3" width="4.7" height="12.7" fill="#089981"/><path d="M858.1 128.0V145.4" stroke="#f23645" stroke-width="1"/><rect x="855.8" y="138.0" width="4.7" height="2.4" fill="#f23645"/><path d="M863.7 136.3V161.5" stroke="#f23645" stroke-width="1"/><rect x="861.4" y="141.4" width="4.7" height="10.6" fill="#f23645"/><path d="M869.3 128.0V152.4" stroke="#089981" stroke-width="1"/><rect x="866.9" y="132.3" width="4.7" height="19.1" fill="#089981"/><path d="M874.9 122.0V135.3" stroke="#089981" stroke-width="1"/><rect x="872.5" y="131.3" width="4.7" height="1.4" fill="#089981"/><path d="M880.5 122.0V145.4" stroke="#f23645" stroke-width="1"/><rect x="878.1" y="131.3" width="4.7" height="3.4" fill="#f23645"/><path d="M886.0 119.0V135.3" stroke="#089981" stroke-width="1"/><rect x="883.7" y="126.3" width="4.7" height="8.4" fill="#089981"/><path d="M891.6 124.0V163.5" stroke="#f23645" stroke-width="1"/><rect x="889.3" y="127.3" width="4.7" height="15.5" fill="#f23645"/><path d="M897.2 129.0V158.5" stroke="#089981" stroke-width="1"/><rect x="894.9" y="132.3" width="4.7" height="10.5" fill="#089981"/><path d="M902.8 114.0V135.3" stroke="#f23645" stroke-width="1"/><rect x="900.4" y="132.3" width="4.7" height="2.4" fill="#f23645"/><path d="M908.4 123.0V155.5" stroke="#089981" stroke-width="1"/><rect x="906.0" y="129.3" width="4.7" height="5.4" fill="#089981"/><path d="M913.9 128.3V156.5" stroke="#f23645" stroke-width="1"/><rect x="911.6" y="130.3" width="4.7" height="25.7" fill="#f23645"/><path d="M919.5 134.3V191.7" stroke="#f23645" stroke-width="1"/><rect x="917.2" y="154.5" width="4.7" height="34.2" fill="#f23645"/><path d="M925.1 186.7V223.0" stroke="#f23645" stroke-width="1"/><rect x="922.8" y="187.7" width="4.7" height="31.3" fill="#f23645"/><path d="M930.7 186.7V235.0" stroke="#089981" stroke-width="1"/><rect x="928.3" y="206.8" width="4.7" height="12.2" fill="#089981"/><path d="M936.3 194.7V219.0" stroke="#f23645" stroke-width="1"/><rect x="933.9" y="205.8" width="4.7" height="9.1" fill="#f23645"/><path d="M941.9 210.8V235.0" stroke="#f23645" stroke-width="1"/><rect x="939.5" y="214.5" width="4.7" height="19.5" fill="#f23645"/><path d="M947.4 213.9V243.0" stroke="#089981" stroke-width="1"/><rect x="945.1" y="222.0" width="4.7" height="12.0" fill="#089981"/><path d="M953.0 185.7V223.0" stroke="#089981" stroke-width="1"/><rect x="950.7" y="188.7" width="4.7" height="34.3" fill="#089981"/><path d="M958.6 147.4V190.7" stroke="#089981" stroke-width="1"/><rect x="956.3" y="158.0" width="4.7" height="32.7" fill="#089981"/><path d="M964.2 135.3V162.5" stroke="#089981" stroke-width="1"/><rect x="961.8" y="135.3" width="4.7" height="23.2" fill="#089981"/><path d="M969.8 134.5V172.5" stroke="#f23645" stroke-width="1"/><rect x="967.4" y="135.3" width="4.7" height="36.3" fill="#f23645"/><path d="M975.4 145.4V174.6" stroke="#089981" stroke-width="1"/><rect x="973.0" y="160.9" width="4.7" height="10.7" fill="#089981"/><path d="M980.9 147.4V166.5" stroke="#089981" stroke-width="1"/><rect x="978.6" y="160.0" width="4.7" height="2.0" fill="#089981"/><path d="M986.5 151.4V174.6" stroke="#089981" stroke-width="1"/><rect x="984.2" y="153.4" width="4.7" height="7.1" fill="#089981"/><path d="M992.1 144.4V181.6" stroke="#f23645" stroke-width="1"/><rect x="989.7" y="153.4" width="4.7" height="16.2" fill="#f23645"/><path d="M997.7 166.5V198.8" stroke="#f23645" stroke-width="1"/><rect x="995.3" y="169.0" width="4.7" height="28.8" fill="#f23645"/><path d="M1003.3 187.7V205.8" stroke="#f23645" stroke-width="1"/><rect x="1000.9" y="196.7" width="4.7" height="8.1" fill="#f23645"/><path d="M1008.8 182.2V205.2" stroke="#089981" stroke-width="1"/><rect x="1006.5" y="182.2" width="4.7" height="22.2" fill="#089981"/><path d="M1014.4 163.5V184.7" stroke="#089981" stroke-width="1"/><rect x="1012.1" y="167.5" width="4.7" height="16.2" fill="#089981"/><path d="M1020.0 156.0V168.5" stroke="#089981" stroke-width="1"/><rect x="1017.7" y="158.5" width="4.7" height="9.0" fill="#089981"/><path d="M1025.6 148.4V160.5" stroke="#089981" stroke-width="1"/><rect x="1023.2" y="149.4" width="4.7" height="10.1" fill="#089981"/><path d="M1031.2 127.3V151.4" stroke="#089981" stroke-width="1"/><rect x="1028.8" y="142.0" width="4.7" height="6.8" fill="#089981"/><path d="M1036.8 130.3V152.4" stroke="#f23645" stroke-width="1"/><rect x="1034.4" y="142.0" width="4.7" height="9.4" fill="#f23645"/><path d="M1042.3 150.4V162.5" stroke="#f23645" stroke-width="1"/><rect x="1040.0" y="151.4" width="4.7" height="3.5" fill="#f23645"/><path d="M1047.9 129.3V158.5" stroke="#089981" stroke-width="1"/><rect x="1045.6" y="138.3" width="4.7" height="16.2" fill="#089981"/><path d="M1053.5 135.3V147.4" stroke="#f23645" stroke-width="1"/><rect x="1051.2" y="138.0" width="4.7" height="8.8" fill="#f23645"/><path d="M1059.1 142.4V158.5" stroke="#089981" stroke-width="1"/><rect x="1056.7" y="142.4" width="4.7" height="4.4" fill="#089981"/><path d="M1064.7 132.3V143.4" stroke="#089981" stroke-width="1"/><rect x="1062.3" y="134.3" width="4.7" height="8.5" fill="#089981"/><path d="M1070.2 129.3V140.4" stroke="#f23645" stroke-width="1"/><rect x="1067.9" y="134.0" width="4.7" height="1.0" fill="#f23645"/><path d="M1075.8 130.3V140.4" stroke="#f23645" stroke-width="1"/><rect x="1073.5" y="134.3" width="4.7" height="5.0" fill="#f23645"/><path d="M1081.4 138.0V146.4" stroke="#f23645" stroke-width="1"/><rect x="1079.1" y="138.3" width="4.7" height="5.7" fill="#f23645"/><path d="M1087.0 134.3V153.4" stroke="#089981" stroke-width="1"/><rect x="1084.6" y="148.4" width="4.7" height="1.2" fill="#089981"/><path d="M1092.6 140.4V150.4" stroke="#089981" stroke-width="1"/><rect x="1090.2" y="140.4" width="4.7" height="7.0" fill="#089981"/><path d="M1098.2 140.4V149.4" stroke="#f23645" stroke-width="1"/><rect x="1095.8" y="141.4" width="4.7" height="5.6" fill="#f23645"/><path d="M1103.7 139.3V149.4" stroke="#089981" stroke-width="1"/><rect x="1101.4" y="140.4" width="4.7" height="7.0" fill="#089981"/><path d="M1109.3 105.5V141.4" stroke="#089981" stroke-width="1"/><rect x="1107.0" y="107.0" width="4.7" height="33.4" fill="#089981"/><path d="M1114.9 106.0V121.5" stroke="#f23645" stroke-width="1"/><rect x="1112.6" y="107.7" width="4.7" height="4.1" fill="#f23645"/><path d="M1120.5 109.5V130.3" stroke="#f23645" stroke-width="1"/><rect x="1118.1" y="110.0" width="4.7" height="11.5" fill="#f23645"/><path d="M1126.1 104.5V122.5" stroke="#089981" stroke-width="1"/><rect x="1123.7" y="106.0" width="4.7" height="15.5" fill="#089981"/><path d="M1131.6 76.0V107.0" stroke="#089981" stroke-width="1"/><rect x="1129.3" y="78.5" width="4.7" height="28.2" fill="#089981"/><path d="M1137.2 71.0V84.0" stroke="#089981" stroke-width="1"/><rect x="1134.9" y="75.0" width="4.7" height="4.6" fill="#089981"/><path d="M1142.8 65.0V78.0" stroke="#089981" stroke-width="1"/><rect x="1140.5" y="68.0" width="4.7" height="8.0" fill="#089981"/><path d="M1148.4 54.0V77.0" stroke="#089981" stroke-width="1"/><rect x="1146.0" y="62.0" width="4.7" height="6.9" fill="#089981"/><path d="M1154.0 45.3V76.0" stroke="#089981" stroke-width="1"/><rect x="1151.6" y="49.3" width="4.7" height="13.5" fill="#089981"/><path d="M1159.6 33.2V60.4" stroke="#f23645" stroke-width="1"/><rect x="1157.2" y="49.3" width="4.7" height="9.1" fill="#f23645"/><path d="M1165.1 51.4V78.0" stroke="#f23645" stroke-width="1"/><rect x="1162.8" y="58.0" width="4.7" height="15.5" fill="#f23645"/><path d="M1170.7 72.0V81.5" stroke="#f23645" stroke-width="1"/><rect x="1168.4" y="73.0" width="4.7" height="7.6" fill="#f23645"/><path d="M1176.3 79.0V90.0" stroke="#f23645" stroke-width="1"/><rect x="1174.0" y="79.6" width="4.7" height="7.4" fill="#f23645"/><path d="M1181.9 85.0V97.0" stroke="#f23645" stroke-width="1"/><rect x="1179.5" y="85.6" width="4.7" height="9.1" fill="#f23645"/><path d="M1187.5 93.5V107.0" stroke="#f23645" stroke-width="1"/><rect x="1185.1" y="94.3" width="4.7" height="6.4" fill="#f23645"/><path d="M1193.0 99.5V125.3" stroke="#f23645" stroke-width="1"/><rect x="1190.7" y="100.3" width="4.7" height="22.6" fill="#f23645"/><path d="M1198.6 111.8V128.0" stroke="#089981" stroke-width="1"/><rect x="1196.3" y="112.4" width="4.7" height="10.9" fill="#089981"/><path d="M1204.2 107.8V120.8" stroke="#f23645" stroke-width="1"/><rect x="1201.9" y="113.2" width="4.7" height="2.6" fill="#f23645"/><path d="M1209.8 114.5V154.5" stroke="#f23645" stroke-width="1"/><rect x="1207.4" y="115.2" width="4.7" height="38.8" fill="#f23645"/><path d="M1215.4 145.0V163.0" stroke="#089981" stroke-width="1"/><rect x="1213.0" y="153.0" width="4.7" height="2.0" fill="#089981"/><path d="M1221.0 152.0V176.0" stroke="#f23645" stroke-width="1"/><rect x="1218.6" y="153.0" width="4.7" height="22.0" fill="#f23645"/><path d="M1226.5 172.0V185.0" stroke="#f23645" stroke-width="1"/><rect x="1224.2" y="173.0" width="4.7" height="11.0" fill="#f23645"/><path d="M1232.1 179.0V191.6" stroke="#f23645" stroke-width="1"/><rect x="1229.8" y="180.0" width="4.7" height="9.0" fill="#f23645"/><path d="M1237.7 167.2V191.6" stroke="#089981" stroke-width="1"/><rect x="1235.4" y="171.8" width="4.7" height="17.2" fill="#089981"/><path d="M1243.3 169.0V177.5" stroke="#089981" stroke-width="1"/><rect x="1240.9" y="169.8" width="4.7" height="3.0" fill="#089981"/><path d="M1248.9 160.0V182.6" stroke="#089981" stroke-width="1"/><rect x="1246.5" y="160.7" width="4.7" height="11.1" fill="#089981"/><path d="M1254.5 154.0V167.0" stroke="#089981" stroke-width="1"/><rect x="1252.1" y="157.0" width="4.7" height="5.0" fill="#089981"/><path d="M1260.0 133.7V160.7" stroke="#089981" stroke-width="1"/><rect x="1257.7" y="143.5" width="4.7" height="14.5" fill="#089981"/><path d="M1265.6 139.0V162.0" stroke="#f23645" stroke-width="1"/><rect x="1263.3" y="144.0" width="4.7" height="10.3" fill="#f23645"/><path d="M1271.2 127.8V157.4" stroke="#089981" stroke-width="1"/><rect x="1268.8" y="130.0" width="4.7" height="23.0" fill="#089981"/><path d="M1276.8 127.8V140.0" stroke="#089981" stroke-width="1"/><rect x="1274.4" y="130.0" width="4.7" height="1.3" fill="#089981"/><path d="M774.4 133.3V152.4M772.9 133.3h3" stroke="#0a8a80" stroke-width="1.1"/><circle cx="774.4" cy="152.4" r="1.3" fill="#0a8a80"/><path d="M841.2 99.0V117.0M839.7 99.0h3" stroke="#0a8a80" stroke-width="1.1"/><circle cx="841.2" cy="117.0" r="1.3" fill="#0a8a80"/><path d="M886.3 82.3V100.3M884.8 82.3h3" stroke="#0a8a80" stroke-width="1.1"/><circle cx="886.3" cy="100.3" r="1.3" fill="#0a8a80"/><path d="M903.4 77.0V95.0M901.9 77.0h3" stroke="#0a8a80" stroke-width="1.1"/><circle cx="903.4" cy="95.0" r="1.3" fill="#0a8a80"/><path d="M964.4 98.0V116.0M962.9 98.0h3" stroke="#0a8a80" stroke-width="1.1"/><circle cx="964.4" cy="116.0" r="1.3" fill="#0a8a80"/><path d="M992.6 107.0V125.0M991.1 107.0h3" stroke="#0a8a80" stroke-width="1.1"/><circle cx="992.6" cy="125.0" r="1.3" fill="#0a8a80"/><path d="M1031.2 91.3V109.3M1029.7 91.3h3" stroke="#0a8a80" stroke-width="1.1"/><circle cx="1031.2" cy="109.3" r="1.3" fill="#0a8a80"/><path d="M1048.4 92.0V110.0M1046.9 92.0h3" stroke="#0a8a80" stroke-width="1.1"/><circle cx="1048.4" cy="110.0" r="1.3" fill="#0a8a80"/><path d="M1070.5 92.0V110.0M1069.0 92.0h3" stroke="#0a8a80" stroke-width="1.1"/><circle cx="1070.5" cy="110.0" r="1.3" fill="#0a8a80"/><path d="M1109.5 69.5V87.6M1108.0 69.5h3" stroke="#0a8a80" stroke-width="1.1"/><circle cx="1109.5" cy="87.6" r="1.3" fill="#0a8a80"/><path d="M1160.5 7.0V14.5M1159.0 7.0h3" stroke="#0a8a80" stroke-width="1.1"/><circle cx="1160.5" cy="14.5" r="1.3" fill="#0a8a80"/><path d="M785.5 253.5V265.0" stroke="#f44336" stroke-width="1.1"/><path d="M784.1 255.7L785.5 252.9L786.9 255.7Z" fill="#f44336"/><path d="M931.0 254.0V265.0" stroke="#f44336" stroke-width="1.1"/><path d="M929.6 256.2L931.0 253.4L932.4 256.2Z" fill="#f44336"/><path d="M947.2 262.0V265.0" stroke="#f44336" stroke-width="1.1"/><path d="M945.8 264.2L947.2 261.4L948.6 264.2Z" fill="#f44336"/><path d="M835.5 188.7V206.8" stroke="#f44336" stroke-width="1.1"/><path d="M834.1 190.9L835.5 188.1L836.9 190.9Z" fill="#f44336"/><path d="M863.3 180.6V198.8" stroke="#f44336" stroke-width="1.1"/><path d="M861.9 182.8L863.3 180.0L864.7 182.8Z" fill="#f44336"/><path d="M891.0 183.7V201.8" stroke="#f44336" stroke-width="1.1"/><path d="M889.6 185.9L891.0 183.1L892.4 185.9Z" fill="#f44336"/><path d="M1003.3 224.0V240.0" stroke="#f44336" stroke-width="1.1"/><path d="M1001.9 226.2L1003.3 223.4L1004.7 226.2Z" fill="#f44336"/><path d="M1042.6 181.6V199.8" stroke="#f44336" stroke-width="1.1"/><path d="M1041.2 183.8L1042.6 181.0L1044.0 183.8Z" fill="#f44336"/><path d="M1087.5 172.0V190.3" stroke="#f44336" stroke-width="1.1"/><path d="M1086.1 174.2L1087.5 171.4L1088.9 174.2Z" fill="#f44336"/><path d="M1233.6 209.6V229.0" stroke="#f44336" stroke-width="1.1"/><path d="M1232.2 211.8L1233.6 209.0L1235.0 211.8Z" fill="#f44336"/></g><g clip-path="url(#cT2)"><path d="M773 271.5H1333" stroke="#83868f" stroke-width="1" stroke-dasharray="5 6" shape-rendering="crispEdges"/><path d="M773 311.5H1333" stroke="#83868f" stroke-width="1" stroke-dasharray="5 6" shape-rendering="crispEdges"/><polyline points="773.0,297.9 775.7,307.3 783.8,310.8 794.5,309.2 801.3,273.7 805.3,271.6 908.7,272.4 914.0,309.2 939.5,311.3 958.3,309.2 963.7,273.7 969.0,271.6 992.0,273.2 997.3,308.6 1006.7,310.8 1020.0,308.6 1025.0,273.7 1029.5,271.6 1086.0,272.4 1092.4,308.6 1104.5,310.0 1109.0,307.3 1114.7,273.2 1119.2,271.6 1171.6,272.4 1176.4,309.2 1189.0,311.3 1234.7,311.3 1253.5,309.4 1259.7,272.4 1269.6,270.5 1277.0,270.5" fill="none" stroke="#f23645" stroke-width="1.25" stroke-linejoin="round" stroke-linecap="round" /><polyline points="773.0,271.0 926.0,271.6 953.0,273.7 971.8,274.5 979.8,277.7 986.5,307.3 998.6,310.0 1033.5,310.8 1060.4,309.2 1071.0,307.3 1075.7,275.0 1081.9,272.9 1095.0,271.0 1216.0,271.0 1226.6,272.4 1232.8,273.7 1237.4,303.2 1244.0,308.0 1258.9,310.0 1277.0,310.5" fill="none" stroke="#2962ff" stroke-width="1.25" stroke-linejoin="round" stroke-linecap="round" /><polyline points="773.0,271.0 953.0,271.6 1006.7,273.2 1060.0,273.7 1087.0,275.0 1104.5,276.4 1113.9,273.7 1154.0,271.6 1216.0,271.0 1248.0,273.2 1277.0,273.7" fill="none" stroke="#4caf50" stroke-width="1.4" stroke-linejoin="round" stroke-linecap="round" /></g><g clip-path="url(#cT3)"><path d="M773 343.5H1333" stroke="#4e515b" stroke-width="1" stroke-dasharray="5 6" shape-rendering="crispEdges"/><polyline points="773.0,336.0 783.8,338.2 791.9,332.8 800.0,330.6 813.3,333.3 826.8,332.2 834.8,334.1 842.9,329.6 853.6,332.2 864.4,334.1 872.4,332.8 883.2,335.5 891.2,338.2 896.6,341.4 904.6,338.2 915.4,343.0 930.0,351.6 936.9,348.4 947.6,351.6 953.0,340.8 958.3,332.8 969.0,334.1 979.8,336.8 993.3,339.5 1006.7,343.0 1014.7,336.8 1022.8,335.5 1030.8,330.6 1038.9,333.3 1049.6,330.1 1060.4,333.3 1073.8,332.8 1087.0,336.0 1103.0,339.5 1109.0,329.6 1124.6,332.8 1132.6,327.4 1154.0,326.9 1164.9,330.1 1175.6,332.8 1186.4,334.9 1197.0,339.5 1205.0,338.2 1213.2,343.0 1224.0,346.2 1232.8,348.9 1242.7,344.9 1249.5,346.7 1258.9,337.6 1265.6,339.5 1272.3,336.8 1277.0,338.7" fill="none" stroke="#2962ff" stroke-width="1.3" stroke-linejoin="round" stroke-linecap="round" /><polyline points="773.0,340.3 783.8,336.0 794.5,340.3 805.3,343.0 813.3,340.8 826.8,343.5 845.6,346.7 857.6,348.9 863.0,341.4 875.0,344.9 885.8,342.2 891.2,334.1 899.3,338.2 910.0,336.0 920.7,329.6 928.8,327.4 939.5,328.8 947.6,327.9 953.0,330.6 963.7,335.5 979.8,337.6 990.6,338.2 1001.3,334.9 1012.0,336.8 1028.2,341.4 1038.9,342.2 1047.0,344.0 1055.0,340.3 1065.7,340.3 1076.5,343.5 1087.0,338.7 1095.0,339.5 1105.8,342.2 1113.9,347.6 1120.6,343.0 1132.6,347.6 1146.0,351.6 1159.5,358.3 1167.6,346.2 1173.0,345.7 1181.0,340.8 1191.7,332.8 1205.0,334.9 1210.5,327.9 1221.3,327.4 1232.8,326.1 1242.7,329.6 1253.5,331.4 1261.5,334.9 1272.3,338.7 1277.0,340.3" fill="none" stroke="#ff5252" stroke-width="1.3" stroke-linejoin="round" stroke-linecap="round" /><polyline points="773.0,346.2 786.5,352.0 794.5,352.9 805.3,348.9 818.7,346.2 832.0,340.3 845.6,334.1 859.0,331.4 877.8,331.4 893.9,334.9 907.3,339.5 918.0,340.3 931.5,335.5 942.2,332.2 953.0,329.6 969.0,330.6 985.2,336.0 996.0,344.0 1006.7,355.6 1014.7,363.7 1025.5,359.6 1033.5,354.3 1047.0,346.2 1060.4,341.4 1073.8,338.2 1087.0,338.5 1103.0,340.8 1124.6,338.2 1140.7,331.4 1154.0,325.3 1164.9,322.6 1178.3,323.4 1194.4,327.4 1207.8,331.4 1221.3,334.9 1234.7,332.8 1253.5,327.9 1266.9,328.2 1277.0,331.4" fill="none" stroke="#f0f0f0" stroke-width="1.3" stroke-linejoin="round" stroke-linecap="round" /></g><g clip-path="url(#cT4)"><rect x="773" y="381.1" width="564" height="24.2" fill="#0e0a16"/><path d="M773 381.5H1333" stroke="#70737d" stroke-width="1" stroke-dasharray="5 6" shape-rendering="crispEdges"/><path d="M773 390.5H1333" stroke="#70737d" stroke-width="1" stroke-dasharray="5 6" shape-rendering="crispEdges"/><path d="M773 405.5H1333" stroke="#70737d" stroke-width="1" stroke-dasharray="5 6" shape-rendering="crispEdges"/><polyline points="773.0,384.3 786.5,387.0 805.3,387.8 824.0,385.1 845.6,381.1 867.0,380.6 888.5,381.1 910.0,383.8 926.0,390.5 942.2,397.2 957.0,399.4 974.5,394.5 993.3,389.2 1012.0,390.5 1033.5,389.2 1060.4,386.0 1076.5,385.1 1087.0,386.5 1108.5,386.0 1127.3,385.1 1140.7,382.5 1156.8,379.8 1173.0,380.3 1186.4,382.5 1202.5,387.8 1218.6,395.9 1234.7,404.0 1250.8,405.8 1264.2,402.0 1277.0,395.3" fill="none" stroke="#fdd835" stroke-width="1.3" stroke-linejoin="round" stroke-linecap="round" /><polyline points="773.0,389.2 778.4,394.0 783.8,394.5 791.9,386.5 802.6,381.7 813.3,382.5 826.8,381.1 834.8,381.9 841.5,378.4 848.2,381.1 856.3,380.6 863.0,384.3 872.4,381.1 883.2,381.1 891.2,386.5 899.3,383.8 910.0,385.1 918.0,400.0 925.6,411.2 931.5,404.0 936.9,405.3 942.2,410.0 950.3,397.2 957.0,387.8 963.7,383.3 970.4,389.7 977.0,387.8 986.5,386.5 996.0,395.9 1002.6,397.8 1009.4,391.9 1017.4,387.8 1029.5,384.3 1038.9,387.0 1049.6,383.8 1060.4,386.0 1068.4,383.3 1079.2,385.1 1087.0,387.8 1092.4,386.0 1099.0,389.2 1109.0,379.8 1113.9,380.6 1120.6,384.3 1131.3,378.4 1154.0,375.7 1164.9,383.8 1175.6,387.8 1186.4,391.9 1193.0,400.0 1198.4,395.9 1203.8,395.9 1209.2,407.2 1214.6,407.2 1220.0,412.0 1226.6,414.7 1232.8,416.8 1237.4,404.0 1244.0,402.0 1249.5,397.8 1256.2,394.5 1261.5,390.0 1265.6,393.2 1271.0,387.0 1277.0,386.5" fill="none" stroke="#7e57c2" stroke-width="1.3" stroke-linejoin="round" stroke-linecap="round" /></g><g clip-path="url(#cB1)"><path d="M775 569.5H1337" stroke="#089981" stroke-width="1" stroke-dasharray="1 1.6"/><rect x="1325.3" y="500" width="10.5" height="9.2" fill="#7f2a2e"/><rect x="1304.2" y="549" width="31.6" height="10.2" fill="#7f2a2e"/><rect x="1296" y="559.2" width="39.8" height="10.1" fill="#7f2a2e"/><rect x="1311.2" y="569.8" width="24.6" height="8.0" fill="#3a3d45"/><rect x="1332.3" y="577.8" width="3.5" height="10.2" fill="#0b6b3a"/><rect x="1318.2" y="617.9" width="17.6" height="10.5" fill="#0b6b3a"/><polyline points="834.5,459.0 842.5,473.0 850.6,485.2 858.6,492.3 866.7,498.3 874.7,502.3 879.8,500.3 886.4,493.3 894.9,491.3 907.0,493.3 915.0,488.2 923.0,481.2 931.0,474.0 941.2,467.0 951.3,463.0 961.3,460.5 975.0,460.0 990.0,459.0" fill="none" stroke="#e0303f" stroke-width="1.2" stroke-linejoin="round" stroke-linecap="round" /><polyline points="1050.6,459.0 1060.7,469.0 1070.8,483.2 1080.8,503.3 1088.9,517.4 1095.0,529.5 1101.0,547.6 1105.0,563.8 1109.0,574.8 1116.0,578.9 1123.0,574.8 1131.2,569.8 1141.3,566.8 1150.0,566.1 1160.0,564.1 1170.2,561.5 1180.3,559.5 1190.4,560.5 1200.4,558.5 1208.5,555.5 1213.5,549.4 1217.5,544.4 1222.6,543.4 1228.6,539.3 1238.7,538.9 1248.8,540.0 1260.4,539.3" fill="none" stroke="#e0303f" stroke-width="1.2" stroke-linejoin="round" stroke-linecap="round" /><polyline points="775.0,580.9 785.5,589.0 792.6,592.0 799.6,597.0 807.3,608.0 814.3,615.0 821.4,616.5 828.4,614.0 835.5,611.7 843.0,611.0 850.2,612.0 857.2,614.0 864.3,617.0 878.8,618.5 890.8,620.0 907.6,622.0 922.5,625.0 936.6,627.2 943.6,626.2 951.7,621.0 958.7,614.0 966.0,606.3 972.0,603.9 980.0,607.3 987.2,611.4 992.2,618.4 1001.3,632.5 1008.5,640.6 1015.8,649.6 1023.0,658.7 1030.3,664.7 1037.5,669.8 1042.6,678.5" fill="none" stroke="#00897b" stroke-width="1.2" stroke-linejoin="round" stroke-linecap="round" /><polyline points="1097.0,678.5 1102.6,666.7 1109.4,651.6 1116.7,649.0 1124.1,651.6 1131.2,653.7 1138.5,654.7 1145.3,652.6 1152.0,650.0 1164.2,646.0 1180.3,643.5 1188.3,635.0 1200.4,629.0 1210.5,623.3 1224.6,622.0 1236.7,618.5 1248.8,615.9 1260.4,614.3" fill="none" stroke="#00897b" stroke-width="1.2" stroke-linejoin="round" stroke-linecap="round" /><polyline points="960.0,459.0 980.0,466.0 1000.3,474.0 1020.4,485.2 1040.6,494.3 1060.7,504.3 1080.8,513.4 1101.0,520.5 1121.0,527.9 1140.0,535.3 1160.0,543.4 1180.3,550.0 1200.4,557.5 1220.6,562.9 1240.7,567.5 1260.4,569.6" fill="none" stroke="#ff9800" stroke-width="1.3" stroke-linejoin="round" stroke-linecap="round" /><polyline points="815.3,459.0 830.4,469.0 850.6,482.2 864.7,490.2 874.7,492.7 890.8,494.3 911.0,495.3 931.0,496.3 951.3,497.7 963.4,499.2 970.0,499.7 980.0,504.3 990.0,509.4 1000.3,516.4 1010.4,523.5 1020.4,529.5 1036.5,537.2 1050.6,544.6 1064.7,549.7 1076.8,554.0 1091.0,557.7 1105.0,560.7 1121.0,562.8 1137.2,564.2 1152.0,567.5 1164.2,569.6 1180.3,571.0 1200.4,570.6 1220.6,567.5 1236.7,567.5 1248.8,569.6 1260.4,570.2" fill="none" stroke="#81c784" stroke-width="3" stroke-linejoin="round" stroke-linecap="round" /><polyline points="775.0,526.5 785.5,530.5 792.6,535.6 799.6,551.7 807.3,564.8 814.3,571.8 821.4,579.9 828.4,580.9 835.5,576.9 843.0,578.3 850.2,581.5 857.2,584.9 864.3,588.9 871.3,580.9 879.4,559.7 886.4,540.6 893.5,533.5 900.5,528.5 907.6,523.5 915.4,515.4 922.5,510.4 929.5,509.0 936.6,508.4 943.6,510.4 951.7,514.4 958.7,513.0 965.4,512.0 972.5,527.5 979.5,547.6 987.2,567.8 994.2,587.0 1001.3,601.0 1008.5,612.0 1015.8,619.1 1023.0,618.5 1030.3,617.1 1037.5,616.0 1044.6,622.2 1051.6,625.2 1059.3,624.2 1066.1,625.2 1073.4,625.2 1080.4,617.1 1088.1,611.1 1095.3,608.5 1102.6,607.1 1109.4,602.0 1116.7,595.0 1124.1,588.0 1131.2,582.9 1138.5,579.5 1145.4,590.7 1152.5,598.8 1160.0,595.7 1167.2,594.3 1174.6,591.7 1181.3,588.7 1188.3,584.7 1196.4,581.6 1203.0,579.6 1210.5,571.6 1217.5,559.5 1224.6,554.0 1232.2,560.5 1239.3,567.5 1246.3,571.6 1253.4,573.6 1260.4,573.0" fill="none" stroke="#aa00ff" stroke-width="1.3" stroke-linejoin="round" stroke-linecap="round" /><polyline points="775.0,535.6 782.0,543.6 788.0,556.7 792.6,570.8 799.6,572.8 828.4,573.2 838.5,585.9 850.6,594.0 856.6,606.0 864.3,607.0 871.3,623.2 875.7,610.0 879.4,592.0 884.8,574.8 907.6,573.8 915.4,567.8 922.5,558.7 1030.3,558.1 1037.5,587.0 1040.6,606.3 1044.6,640.6 1048.6,654.7 1052.6,659.7 1058.7,663.3 1080.4,663.3 1088.1,653.7 1102.6,652.6 1109.4,648.6 1116.7,632.5 1124.1,621.4 1131.2,617.4 1138.5,615.8 1203.0,615.9 1210.5,603.8 1217.5,581.6 1224.6,572.6 1260.4,572.6" fill="none" stroke="#e6e6e6" stroke-width="1.2" stroke-linejoin="round" stroke-linecap="round" stroke-linejoin="miter"/><polyline points="775.0,512.4 785.5,519.5 792.6,524.5 799.6,534.6 807.3,543.6 814.3,552.7 821.4,559.7 828.4,563.8 835.5,565.4 843.0,568.8 850.2,572.2 857.2,575.4 864.3,578.3 868.7,577.9 874.7,570.8 879.4,565.8 882.8,557.7 886.4,553.3 893.5,546.6 900.5,540.6 907.6,535.2 915.4,528.5 922.5,523.5 929.5,519.9 936.6,517.8 943.6,517.0 951.7,516.4 958.7,515.0 965.4,514.4 972.5,525.5 979.5,536.6 987.2,546.6 994.2,560.7 1001.3,573.8 1008.5,584.9 1015.8,594.0 1023.0,598.4 1030.3,603.0 1037.5,604.0 1044.6,610.0 1051.6,613.1 1059.3,615.7 1066.1,617.7 1073.4,618.1 1080.4,615.1 1088.1,611.1 1095.3,609.1 1102.6,607.1 1109.4,603.6 1116.7,599.0 1124.1,594.0 1131.2,591.0 1138.5,587.9 1145.4,592.7 1152.5,596.7 1160.0,595.1 1167.2,593.7 1174.6,591.7 1181.3,589.7 1188.3,587.7 1196.4,585.7 1203.0,583.0 1210.5,578.2 1217.5,570.6 1224.6,566.5 1232.2,567.5 1239.3,570.6 1246.3,572.6 1253.4,573.0 1260.4,572.6" fill="none" stroke="#ffffff" stroke-width="2.7" stroke-linejoin="round" stroke-linecap="round" /><path d="M886.8 479.2H1170.0" stroke="#ff5252" stroke-width="3" stroke-dasharray="4 6.8"/><path d="M1138.4 561.3H1259.5" stroke="#ff5252" stroke-width="3" stroke-dasharray="4 6.8"/><path d="M1224.6 520.2H1335.0" stroke="#ff5252" stroke-width="3" stroke-dasharray="4 6.8"/><path d="M821.4 607.5H899.0" stroke="#00e676" stroke-width="3" stroke-dasharray="4 6.8"/><path d="M864.7 617.2H1050.0" stroke="#00e676" stroke-width="3" stroke-dasharray="4 6.8"/><path d="M1045.6 659.5H1187.5" stroke="#00e676" stroke-width="3" stroke-dasharray="4 6.8"/><path d="M1152.5 627.4H1335.0" stroke="#00e676" stroke-width="3" stroke-dasharray="4 6.8"/><polyline points="864.7,617.1 886.4,479.2" fill="none" stroke="#00e676" stroke-width="2" stroke-linejoin="round" stroke-linecap="round" /><polyline points="1047.3,659.5 1224.6,519.8" fill="none" stroke="#00e676" stroke-width="2" stroke-linejoin="round" stroke-linecap="round" /><polyline points="775.0,535.6 864.7,617.1" fill="none" stroke="#ff5252" stroke-width="2" stroke-linejoin="round" stroke-linecap="round" /><polyline points="886.4,479.2 1047.3,659.5" fill="none" stroke="#ff5252" stroke-width="2" stroke-linejoin="round" stroke-linecap="round" /><path d="M778.5 524.5V550.7" stroke="#089981" stroke-width="1"/><rect x="776.0" y="527.9" width="5" height="14.7" fill="#089981"/><path d="M785.7 526.5V556.7" stroke="#f23645" stroke-width="1"/><rect x="783.2" y="527.9" width="5" height="12.7" fill="#f23645"/><path d="M792.9 534.6V576.9" stroke="#f23645" stroke-width="1"/><rect x="790.4" y="539.6" width="5" height="1.6" fill="#f23645"/><path d="M800.1 528.5V568.8" stroke="#f23645" stroke-width="1"/><rect x="797.6" y="541.2" width="5" height="26.6" fill="#f23645"/><path d="M807.3 563.8V600.0" stroke="#f23645" stroke-width="1"/><rect x="804.8" y="566.8" width="5" height="30.2" fill="#f23645"/><path d="M814.5 573.8V597.0" stroke="#089981" stroke-width="1"/><rect x="812.0" y="584.3" width="5" height="11.7" fill="#089981"/><path d="M821.6 577.9V605.0" stroke="#f23645" stroke-width="1"/><rect x="819.1" y="584.3" width="5" height="15.3" fill="#f23645"/><path d="M828.8 583.9V601.0" stroke="#089981" stroke-width="1"/><rect x="826.3" y="584.9" width="5" height="14.7" fill="#089981"/><path d="M836.0 567.4V586.0" stroke="#089981" stroke-width="1"/><rect x="833.5" y="569.4" width="5" height="16.1" fill="#089981"/><path d="M843.2 565.4V583.0" stroke="#f23645" stroke-width="1"/><rect x="840.7" y="569.8" width="5" height="12.5" fill="#f23645"/><path d="M850.4 580.0V587.0" stroke="#f23645" stroke-width="1"/><rect x="847.9" y="581.9" width="5" height="4.6" fill="#f23645"/><path d="M857.6 577.9V593.0" stroke="#f23645" stroke-width="1"/><rect x="855.1" y="586.9" width="5" height="5.7" fill="#f23645"/><path d="M864.8 582.9V617.0" stroke="#f23645" stroke-width="1"/><rect x="862.3" y="592.4" width="5" height="6.6" fill="#f23645"/><path d="M872.0 557.7V599.0" stroke="#089981" stroke-width="1"/><rect x="869.5" y="564.8" width="5" height="34.2" fill="#089981"/><path d="M879.2 506.4V566.8" stroke="#089981" stroke-width="1"/><rect x="876.7" y="515.8" width="5" height="50.0" fill="#089981"/><path d="M886.4 481.2V533.5" stroke="#089981" stroke-width="1"/><rect x="883.9" y="503.7" width="5" height="13.3" fill="#089981"/><path d="M893.5 498.3V527.5" stroke="#f23645" stroke-width="1"/><rect x="891.0" y="503.7" width="5" height="16.2" fill="#f23645"/><path d="M900.7 517.4V537.6" stroke="#089981" stroke-width="1"/><rect x="898.2" y="517.4" width="5" height="2.5" fill="#089981"/><path d="M907.9 502.3V518.4" stroke="#089981" stroke-width="1"/><rect x="905.4" y="515.0" width="5" height="2.8" fill="#089981"/><path d="M915.1 498.3V520.5" stroke="#089981" stroke-width="1"/><rect x="912.6" y="500.3" width="5" height="15.1" fill="#089981"/><path d="M922.3 487.2V514.4" stroke="#089981" stroke-width="1"/><rect x="919.8" y="497.3" width="5" height="3.0" fill="#089981"/><path d="M929.5 490.2V516.4" stroke="#f23645" stroke-width="1"/><rect x="927.0" y="496.9" width="5" height="12.1" fill="#f23645"/><path d="M936.7 502.3V523.5" stroke="#089981" stroke-width="1"/><rect x="934.2" y="504.3" width="5" height="4.1" fill="#089981"/><path d="M943.9 498.3V515.4" stroke="#f23645" stroke-width="1"/><rect x="941.4" y="504.3" width="5" height="9.1" fill="#f23645"/><path d="M951.1 508.4V530.5" stroke="#f23645" stroke-width="1"/><rect x="948.6" y="513.4" width="5" height="10.1" fill="#f23645"/><path d="M958.2 502.9V524.5" stroke="#089981" stroke-width="1"/><rect x="955.8" y="503.7" width="5" height="19.8" fill="#089981"/><path d="M965.4 500.3V516.4" stroke="#f23645" stroke-width="1"/><rect x="962.9" y="503.7" width="5" height="5.3" fill="#f23645"/><path d="M972.6 507.0V573.8" stroke="#f23645" stroke-width="1"/><rect x="970.1" y="507.8" width="5" height="61.6" fill="#f23645"/><path d="M979.8 564.8V596.0" stroke="#f23645" stroke-width="1"/><rect x="977.3" y="569.4" width="5" height="23.6" fill="#f23645"/><path d="M987.0 585.5V607.0" stroke="#f23645" stroke-width="1"/><rect x="984.5" y="592.4" width="5" height="5.6" fill="#f23645"/><path d="M994.2 594.0V625.5" stroke="#f23645" stroke-width="1"/><rect x="991.7" y="597.3" width="5" height="27.2" fill="#f23645"/><path d="M1001.4 622.4V646.6" stroke="#f23645" stroke-width="1"/><rect x="998.9" y="624.0" width="5" height="8.5" fill="#f23645"/><path d="M1008.6 630.5V651.6" stroke="#f23645" stroke-width="1"/><rect x="1006.1" y="632.0" width="5" height="5.5" fill="#f23645"/><path d="M1015.8 628.5V643.6" stroke="#089981" stroke-width="1"/><rect x="1013.3" y="631.0" width="5" height="6.5" fill="#089981"/><path d="M1023.0 611.4V633.0" stroke="#089981" stroke-width="1"/><rect x="1020.5" y="616.4" width="5" height="16.1" fill="#089981"/><path d="M1030.2 620.0V626.0" stroke="#f23645" stroke-width="1"/><rect x="1027.7" y="621.4" width="5" height="3.5" fill="#f23645"/><path d="M1037.3 605.3V635.5" stroke="#089981" stroke-width="1"/><rect x="1034.8" y="606.3" width="5" height="17.1" fill="#089981"/><path d="M1044.5 605.8V658.7" stroke="#f23645" stroke-width="1"/><rect x="1042.0" y="606.3" width="5" height="45.3" fill="#f23645"/><path d="M1051.7 618.4V652.6" stroke="#089981" stroke-width="1"/><rect x="1049.2" y="622.0" width="5" height="29.6" fill="#089981"/><path d="M1058.9 597.3V629.5" stroke="#f23645" stroke-width="1"/><rect x="1056.4" y="621.4" width="5" height="2.6" fill="#f23645"/><path d="M1066.1 611.4V632.5" stroke="#f23645" stroke-width="1"/><rect x="1063.6" y="623.4" width="5" height="6.1" fill="#f23645"/><path d="M1073.3 614.4V631.5" stroke="#089981" stroke-width="1"/><rect x="1070.8" y="625.5" width="5" height="4.5" fill="#089981"/><path d="M1080.5 600.3V626.5" stroke="#089981" stroke-width="1"/><rect x="1078.0" y="606.3" width="5" height="18.6" fill="#089981"/><path d="M1087.7 592.2V611.4" stroke="#089981" stroke-width="1"/><rect x="1085.2" y="600.3" width="5" height="5.7" fill="#089981"/><path d="M1094.9 593.2V613.4" stroke="#f23645" stroke-width="1"/><rect x="1092.4" y="600.3" width="5" height="1.4" fill="#f23645"/><path d="M1102.0 590.2V621.4" stroke="#f23645" stroke-width="1"/><rect x="1099.5" y="601.3" width="5" height="3.4" fill="#f23645"/><path d="M1109.2 587.2V607.3" stroke="#089981" stroke-width="1"/><rect x="1106.7" y="591.2" width="5" height="13.5" fill="#089981"/><path d="M1116.4 580.0V592.5" stroke="#089981" stroke-width="1"/><rect x="1113.9" y="585.2" width="5" height="6.6" fill="#089981"/><path d="M1123.6 570.0V586.5" stroke="#089981" stroke-width="1"/><rect x="1121.1" y="575.0" width="5" height="10.8" fill="#089981"/><path d="M1130.8 566.0V585.0" stroke="#089981" stroke-width="1"/><rect x="1128.3" y="571.0" width="5" height="4.7" fill="#089981"/><path d="M1138.0 561.0V589.0" stroke="#089981" stroke-width="1"/><rect x="1135.5" y="571.0" width="5" height="1.5" fill="#089981"/><path d="M1145.2 567.0V616.4" stroke="#f23645" stroke-width="1"/><rect x="1142.7" y="571.0" width="5" height="44.2" fill="#f23645"/><path d="M1152.4 603.5V626.7" stroke="#f23645" stroke-width="1"/><rect x="1149.9" y="614.3" width="5" height="2.2" fill="#f23645"/><path d="M1159.6 571.6V616.5" stroke="#089981" stroke-width="1"/><rect x="1157.1" y="590.3" width="5" height="25.7" fill="#089981"/><path d="M1166.8 576.2V595.7" stroke="#089981" stroke-width="1"/><rect x="1164.3" y="588.7" width="5" height="1.3" fill="#089981"/><path d="M1174.0 586.3V607.8" stroke="#089981" stroke-width="1"/><rect x="1171.5" y="588.3" width="5" height="1.4" fill="#089981"/><path d="M1181.1 568.5V589.7" stroke="#089981" stroke-width="1"/><rect x="1178.6" y="580.2" width="5" height="8.5" fill="#089981"/><path d="M1188.3 569.6V585.7" stroke="#089981" stroke-width="1"/><rect x="1185.8" y="575.0" width="5" height="6.0" fill="#089981"/><path d="M1195.5 570.6V578.6" stroke="#f23645" stroke-width="1"/><rect x="1193.0" y="575.0" width="5" height="1.2" fill="#f23645"/><path d="M1202.7 571.6V580.7" stroke="#089981" stroke-width="1"/><rect x="1200.2" y="574.2" width="5" height="6.0" fill="#089981"/><path d="M1209.9 556.5V575.6" stroke="#089981" stroke-width="1"/><rect x="1207.4" y="557.5" width="5" height="17.5" fill="#089981"/><path d="M1217.1 531.3V558.5" stroke="#089981" stroke-width="1"/><rect x="1214.6" y="535.3" width="5" height="22.7" fill="#089981"/><path d="M1224.3 520.2V545.4" stroke="#f23645" stroke-width="1"/><rect x="1221.8" y="535.3" width="5" height="9.5" fill="#f23645"/><path d="M1231.5 540.4V566.5" stroke="#f23645" stroke-width="1"/><rect x="1229.0" y="544.0" width="5" height="22.0" fill="#f23645"/><path d="M1238.7 558.5V586.3" stroke="#f23645" stroke-width="1"/><rect x="1236.2" y="565.0" width="5" height="17.2" fill="#f23645"/><path d="M1245.8 581.0V600.8" stroke="#f23645" stroke-width="1"/><rect x="1243.3" y="581.0" width="5" height="10.0" fill="#f23645"/><path d="M1253.0 569.6V595.7" stroke="#089981" stroke-width="1"/><rect x="1250.5" y="576.2" width="5" height="15.5" fill="#089981"/><path d="M1260.2 568.0V584.7" stroke="#089981" stroke-width="1"/><rect x="1257.7" y="569.0" width="5" height="8.0" fill="#089981"/><path d="M843.5 529.5V547.6M842.0 529.5h3" stroke="#0a8a80" stroke-width="1.1"/><circle cx="843.5" cy="547.6" r="1.3" fill="#0a8a80"/><path d="M886.4 459.0V461.5M884.9 459.0h3" stroke="#0a8a80" stroke-width="1.1"/><circle cx="886.4" cy="461.5" r="1.3" fill="#0a8a80"/><path d="M922.5 459.0V467.0M921.0 459.0h3" stroke="#0a8a80" stroke-width="1.1"/><circle cx="922.5" cy="467.0" r="1.3" fill="#0a8a80"/><path d="M965.4 462.0V469.0M963.9 462.0h3" stroke="#0a8a80" stroke-width="1.1"/><circle cx="965.4" cy="469.0" r="1.3" fill="#0a8a80"/><path d="M1037.5 569.8V587.0M1036.0 569.8h3" stroke="#0a8a80" stroke-width="1.1"/><circle cx="1037.5" cy="587.0" r="1.3" fill="#0a8a80"/><path d="M1059.3 560.0V578.3M1057.8 560.0h3" stroke="#0a8a80" stroke-width="1.1"/><circle cx="1059.3" cy="578.3" r="1.3" fill="#0a8a80"/><path d="M1138.5 525.0V543.2M1137.0 525.0h3" stroke="#0a8a80" stroke-width="1.1"/><circle cx="1138.5" cy="543.2" r="1.3" fill="#0a8a80"/><path d="M1181.4 532.3V550.3M1179.9 532.3h3" stroke="#0a8a80" stroke-width="1.1"/><circle cx="1181.4" cy="550.3" r="1.3" fill="#0a8a80"/><path d="M1224.6 484.0V502.7M1223.1 484.0h3" stroke="#0a8a80" stroke-width="1.1"/><circle cx="1224.6" cy="502.7" r="1.3" fill="#0a8a80"/><path d="M821.5 625.0V643.4" stroke="#f44336" stroke-width="1.1"/><path d="M820.1 627.2L821.5 624.4L822.9 627.2Z" fill="#f44336"/><path d="M864.5 635.7V654.5" stroke="#f44336" stroke-width="1.1"/><path d="M863.1 637.9L864.5 635.1L865.9 637.9Z" fill="#f44336"/><path d="M900.5 556.7V573.8" stroke="#f44336" stroke-width="1.1"/><path d="M899.1 558.9L900.5 556.1L901.9 558.9Z" fill="#f44336"/><path d="M951.7 550.7V568.8" stroke="#f44336" stroke-width="1.1"/><path d="M950.3 552.9L951.7 550.1L953.1 552.9Z" fill="#f44336"/><path d="M1008.2 670.0V678.5" stroke="#f44336" stroke-width="1.1"/><path d="M1006.8 672.2L1008.2 669.4L1009.6 672.2Z" fill="#f44336"/><path d="M1102.6 641.6V659.7" stroke="#f44336" stroke-width="1.1"/><path d="M1101.2 643.8L1102.6 641.0L1104.0 643.8Z" fill="#f44336"/><path d="M1152.6 645.6V663.5" stroke="#f44336" stroke-width="1.1"/><path d="M1151.2 647.8L1152.6 645.0L1154.0 647.8Z" fill="#f44336"/><path d="M1246.3 620.0V638.0" stroke="#f44336" stroke-width="1.1"/><path d="M1244.9 622.2L1246.3 619.4L1247.7 622.2Z" fill="#f44336"/><path d="M1119.6 552.7h10l-5 8.2z" fill="#f23645"/></g><g clip-path="url(#cB2)"><path d="M775 684.5H1333" stroke="#83868f" stroke-width="1" stroke-dasharray="5 6" shape-rendering="crispEdges"/><path d="M775 716.5H1333" stroke="#83868f" stroke-width="1" stroke-dasharray="5 6" shape-rendering="crispEdges"/><polyline points="775.3,716.7 798.4,716.0 829.3,716.7 852.4,714.9 864.0,712.9 871.7,685.9 883.3,684.0 934.8,684.0 956.6,687.0 965.0,715.4 970.8,716.7 1042.6,715.5 1044.6,712.0 1051.0,685.6 1054.5,684.5 1064.7,685.0 1066.7,688.9 1073.0,714.0 1080.2,713.2 1087.3,685.6 1093.0,684.0 1138.4,683.5 1145.5,685.6 1152.7,714.0 1164.2,715.4 1187.3,714.0 1193.7,685.9 1200.2,683.3 1238.8,684.0 1246.5,715.4 1260.9,716.7" fill="none" stroke="#f23645" stroke-width="1.25" stroke-linejoin="round" stroke-linecap="round" /><polyline points="775.3,717.0 929.6,715.4 942.5,714.0 950.2,711.6 957.4,685.9 968.2,684.0 996.5,685.0 1001.0,687.0 1008.2,711.3 1015.8,714.0 1030.3,715.5 1044.0,716.0 1174.5,715.4 1187.3,712.9 1195.0,687.0 1207.9,684.6 1260.9,683.5" fill="none" stroke="#2962ff" stroke-width="1.25" stroke-linejoin="round" stroke-linecap="round" /><polyline points="775.3,717.0 1246.5,716.6 1260.9,715.0" fill="none" stroke="#4caf50" stroke-width="1.4" stroke-linejoin="round" stroke-linecap="round" /></g><g clip-path="url(#cB3)"><rect x="775" y="730.4" width="562" height="21.1" fill="#0e0a16"/><path d="M775 730.5H1333" stroke="#70737d" stroke-width="1" stroke-dasharray="5 6" shape-rendering="crispEdges"/><path d="M775 738.5H1333" stroke="#70737d" stroke-width="1" stroke-dasharray="5 6" shape-rendering="crispEdges"/><path d="M775 751.5H1333" stroke="#70737d" stroke-width="1" stroke-dasharray="5 6" shape-rendering="crispEdges"/><circle cx="839.6" cy="742" r="10.6" fill="#1b0c3d"/><path d="M833.61 740.40A6.2 6.2 0 0 1 845.22 739.38M845.59 743.60A6.2 6.2 0 0 1 833.98 744.62" fill="none" stroke="#6b2ff5" stroke-width="1.8"/><path d="M847.82 736.18L846.82 741.58L841.82 739.78Z" fill="#6b2ff5"/><path d="M831.38 747.82L832.38 742.42L837.38 744.22Z" fill="#6b2ff5"/><polyline points="775.3,756.0 790.7,754.0 816.4,752.7 842.0,751.5 864.0,750.9 875.6,746.3 888.5,741.2 903.9,738.6 919.3,734.7 932.2,732.9 950.2,733.4 965.6,734.0 981.0,737.3 996.5,742.4 1012.0,747.6 1030.0,752.7 1044.0,752.0 1058.2,748.9 1073.6,745.0 1087.0,742.4 1112.7,738.6 1138.4,734.0 1164.2,736.0 1202.7,736.0 1220.7,732.2 1241.3,732.9 1260.9,734.2" fill="none" stroke="#fdd835" stroke-width="1.3" stroke-linejoin="round" stroke-linecap="round" /><polyline points="775.3,747.6 780.4,746.8 790.7,752.7 798.4,754.0 806.2,761.2 813.9,754.0 820.3,756.6 829.3,747.6 838.3,743.7 844.7,746.8 855.0,748.4 864.0,750.2 871.7,738.6 878.2,732.2 885.9,730.9 893.6,733.4 903.9,732.9 914.2,731.4 921.9,730.9 932.2,732.9 942.5,734.7 950.2,738.6 957.9,734.7 965.6,736.0 973.3,747.6 981.0,752.0 988.8,755.3 996.5,758.7 1008.0,760.5 1015.8,755.3 1022.2,748.9 1030.0,749.4 1037.6,743.2 1044.0,751.0 1050.5,743.7 1058.2,744.2 1064.6,742.4 1072.4,742.4 1080.0,738.6 1086.5,737.3 1099.9,738.6 1110.0,734.0 1125.6,731.4 1138.4,731.4 1146.2,743.2 1151.3,744.2 1161.6,737.3 1171.9,736.0 1187.3,733.4 1202.7,732.9 1216.9,727.0 1225.9,731.4 1236.2,738.6 1245.2,742.4 1254.2,738.6 1260.9,736.5" fill="none" stroke="#7e57c2" stroke-width="1.3" stroke-linejoin="round" stroke-linecap="round" /></g><g clip-path="url(#cB4)"><path d="M775 791.5H1333" stroke="#4e515b" stroke-width="1" stroke-dasharray="5 6" shape-rendering="crispEdges"/><polyline points="775.3,772.5 816.4,773.3 864.0,774.6 880.7,777.2 903.9,782.3 924.5,784.4 945.0,788.0 965.6,788.7 983.6,786.2 1009.3,782.8 1035.0,780.3 1048.0,779.7 1068.5,781.0 1084.0,784.4 1087.0,788.0 1102.4,792.6 1117.9,796.5 1130.7,799.8 1151.3,800.8 1171.9,799.8 1189.9,799.0 1207.9,797.2 1220.7,793.9 1231.0,792.0 1246.5,792.6 1260.9,793.9" fill="none" stroke="#f0f0f0" stroke-width="1.3" stroke-linejoin="round" stroke-linecap="round" /><polyline points="775.3,781.8 790.7,781.0 798.4,782.8 806.2,780.3 820.3,781.8 842.0,784.4 855.0,783.6 864.0,781.0 871.7,783.6 878.2,787.0 891.0,790.0 903.9,789.3 919.3,791.8 932.2,792.6 942.5,791.8 950.2,789.5 965.0,791.8 970.8,783.6 981.0,781.0 991.3,779.7 1001.6,778.5 1012.0,779.7 1030.0,781.0 1044.0,783.6 1058.2,782.8 1072.4,784.9 1087.0,787.0 1099.9,788.0 1112.7,790.0 1125.6,791.3 1138.4,793.1 1144.9,787.5 1152.6,786.2 1164.2,790.0 1174.5,788.0 1189.9,790.0 1202.7,789.5 1215.6,792.6 1223.3,793.9 1231.0,787.5 1238.8,784.4 1246.5,783.6 1260.9,786.2" fill="none" stroke="#ff5252" stroke-width="1.3" stroke-linejoin="round" stroke-linecap="round" /><polyline points="775.3,800.8 790.7,805.0 798.4,802.4 813.9,805.0 828.0,807.3 835.7,797.7 849.9,798.3 864.0,801.6 871.7,791.3 878.2,783.6 888.5,782.3 898.7,784.4 909.0,782.3 919.3,783.6 932.2,784.9 945.0,787.0 960.5,787.0 970.8,790.5 986.2,793.1 1001.6,796.5 1014.5,797.2 1022.2,791.8 1030.0,792.6 1037.6,790.0 1050.5,794.7 1058.2,789.3 1072.4,792.0 1080.0,788.7 1087.0,788.7 1099.9,791.3 1110.0,790.5 1123.0,788.0 1133.3,788.2 1146.2,791.3 1152.6,792.0 1160.3,786.2 1171.9,788.0 1180.9,785.4 1192.5,787.0 1204.0,787.0 1216.9,781.8 1225.9,781.5 1236.2,784.4 1246.5,786.2 1260.9,787.0" fill="none" stroke="#2962ff" stroke-width="1.3" stroke-linejoin="round" stroke-linecap="round" /></g></svg>
<div class="ax" style="left:687px;top:52.0px;">149.950</div>
<div class="ax" style="left:687px;top:103.37px;">149.900</div>
<div class="ax" style="left:687px;top:154.74px;">149.850</div>
<div class="ax" style="left:687px;top:206.10999999999999px;">149.800</div>
<div class="ax" style="left:687px;top:257.48px;">149.750</div>
<div class="ax" style="left:687px;top:308.84999999999997px;">149.700</div>
<div class="ax" style="left:687px;top:360.21999999999997px;">149.650</div>
<div class="ax" style="left:687px;top:411.59px;">149.600</div>
<div class="ax" style="left:687px;top:462.96px;">149.550</div>
<div class="ax" style="left:687px;top:514.3299999999999px;">149.500</div>
<div class="lb" style="left:677px;top:216px;width:67px;height:38px;background:#089981;color:#fff;line-height:17px;padding-top:3px"><b>149.788</b><br><span style="color:rgba(255,255,255,.72)">00:45</span></div>
<div class="lb" style="left:677px;top:255px;width:67px;height:21px;line-height:21px;background:#fff;color:#1c1c1c;border-radius:2px;">149.749</div>
<div class="lb" style="left:677px;top:315px;width:67px;height:21px;line-height:21px;background:#ff9800;color:#1c1c1c;border-radius:2px;">149.692</div>
<div class="abs" style="left:677px;top:549px;width:93px;height:99px;overflow:hidden"><div class="ax" style="left:10px;top:-7px;">1,000,000</div><div class="ax" style="left:10px;top:88.5px;">−1,000,000</div></div>
<div class="lb" style="left:677px;top:549px;width:59px;height:21px;line-height:21px;background:#f23645;color:#fff;border-radius:0;font-weight:bold;">93.333</div>
<div class="lb" style="left:677px;top:570px;width:59px;height:20.5px;line-height:20.5px;background:#4caf50;color:#fff;border-radius:0;font-weight:bold;">74.649</div>
<div class="lb" style="left:677px;top:590.5px;width:59px;height:20.5px;line-height:20.5px;background:#2962ff;color:#fff;border-radius:0 0 2px 2px;font-weight:bold;">50.274</div>
<div class="ax" style="left:687px;top:649px;">80.00</div><div class="ax" style="left:687px;top:712px;">30.00</div>
<div class="lb" style="left:677px;top:661px;width:52px;height:20.5px;line-height:20.5px;background:#7e57c2;color:#fff;border-radius:2px 2px 0 0;font-weight:bold;">64.98</div>
<div class="lb" style="left:677px;top:681.5px;width:52px;height:20.5px;line-height:20.5px;background:#fdd835;color:#1c1c1c;border-radius:0 0 2px 2px;">53.46</div>
<div class="abs" style="left:677px;top:736px;width:93px;height:76px;overflow:hidden"><div class="ax" style="left:11px;top:8px;">40.000</div><div class="lb" style="left:0px;top:19.5px;width:59px;height:20.5px;line-height:20.5px;background:#2962ff;color:#fff;border-radius:2px 2px 0 0;font-weight:bold;">27.517</div><div class="lb" style="left:0px;top:40px;width:59px;height:20.5px;line-height:20.5px;background:#ff5252;color:#fff;border-radius:0;font-weight:bold;">19.685</div><div class="lb" style="left:0px;top:60.5px;width:59px;height:20.5px;line-height:20.5px;background:#fff;color:#1c1c1c;border-radius:0;">13.165</div></div>
<div class="tm" style="left:47px;top:820.5px">14:30</div>
<div class="tm" style="left:155px;top:820.5px">14:45</div>
<div class="tm" style="left:263px;top:820.5px"><b>15:00</b></div>
<div class="tm" style="left:371px;top:820.5px">15:15</div>
<div class="tm" style="left:479px;top:820.5px">15:30</div>
<div class="tm" style="left:587px;top:820.5px">15:45</div>
<div class="rp">
<div class="ax" style="left:1347px;top:44.6px;">150.200</div>
<div class="ax" style="left:1347px;top:82px;">150.000</div>
<div class="ax" style="left:1347px;top:119px;">149.800</div>
<div class="ax" style="left:1347px;top:156px;">149.600</div>
<div class="ax" style="left:1347px;top:196px;">149.400</div>
<div class="ax" style="left:1347px;top:233px;">149.200</div>
<div class="lb" style="left:1337px;top:120px;width:67px;height:38px;background:#089981;color:#fff;line-height:17px;padding-top:3px"><b>149.789</b><br><span style="color:rgba(255,255,255,.72)">03:45</span></div>
<div class="lb" style="left:1337px;top:158px;width:67px;height:20px;line-height:20px;background:#ff9800;color:#1c1c1c;border-radius:0;">149.722</div>
<div class="lb" style="left:1337px;top:178px;width:67px;height:20px;line-height:20px;background:#fff;color:#1c1c1c;border-radius:0 0 2px 2px;">149.559</div>
<div class="abs" style="left:1337px;top:266px;width:80px;height:51px;overflow:hidden"><div class="lb" style="left:0px;top:0px;width:59px;height:20.5px;line-height:20.5px;background:#f23645;color:#fff;border-radius:0;font-weight:bold;">98.333</div><div class="lb" style="left:0px;top:20.5px;width:59px;height:20.5px;line-height:20.5px;background:#4caf50;color:#fff;border-radius:0;font-weight:bold;">15.299</div><div class="lb" style="left:0px;top:41px;width:67px;height:20.5px;line-height:20.5px;background:#2962ff;color:#fff;border-radius:0 2px 2px 0;font-weight:bold;">−44.843</div></div>
<div class="abs" style="left:1337px;top:318px;width:80px;height:52px;overflow:hidden"><div class="lb" style="left:0px;top:-8.5px;width:59px;height:20.5px;line-height:20.5px;background:#fff;color:#1c1c1c;border-radius:0;">29.069</div><div class="lb" style="left:0px;top:12px;width:59px;height:20.5px;line-height:20.5px;background:#2962ff;color:#fff;border-radius:0;font-weight:bold;">20.175</div><div class="lb" style="left:0px;top:32.5px;width:59px;height:20.5px;line-height:20.5px;background:#ff5252;color:#fff;border-radius:0;font-weight:bold;">19.178</div></div>
<div class="lb" style="left:1337px;top:376px;width:51px;height:20.5px;line-height:20.5px;background:#7e57c2;color:#fff;border-radius:2px 2px 0 0;font-weight:bold;">57.24</div>
<div class="lb" style="left:1337px;top:396.5px;width:51px;height:21px;line-height:21px;background:#fdd835;color:#1c1c1c;border-radius:0 0 2px 2px;">41.63</div>
<div class="tm" style="left:796.5px;top:430px">18:00</div>
<div class="tm" style="left:863.5px;top:430px">21:00</div>
<div class="tm" style="left:930.5px;top:430px"><b>25</b></div>
<div class="tm" style="left:997.5px;top:430px">03:00</div>
<div class="tm" style="left:1064.5px;top:430px">06:00</div>
<div class="tm" style="left:1132px;top:430px">09:00</div>
<div class="tm" style="left:1199.5px;top:430px">12:00</div>
<div class="tm" style="left:1267px;top:430px">15:00</div>
<div class="ax" style="left:1347px;top:494.7px;">150.500</div>
<div class="ax" style="left:1347px;top:542.3px;">150.000</div>
<div class="ax" style="left:1347px;top:590px;">149.500</div>
<div class="ax" style="left:1347px;top:637.5px;">149.000</div>
<div class="lb" style="left:1337px;top:559px;width:67px;height:38px;background:#089981;color:#fff;line-height:17px;padding-top:3px"><b>149.787</b><br><span style="color:rgba(255,255,255,.72)">18:45</span></div>
<div class="lb" style="left:1337px;top:597px;width:67px;height:20px;line-height:20px;background:#ff9800;color:#1c1c1c;border-radius:0;">149.781</div>
<div class="lb" style="left:1337px;top:617px;width:67px;height:20.5px;line-height:20.5px;background:#fff;color:#1c1c1c;border-radius:0 0 2px 2px;">149.751</div>
<div class="abs" style="left:1337px;top:679px;width:80px;height:43px;overflow:hidden"><div class="lb" style="left:0px;top:-18px;width:59px;height:20.5px;line-height:20.5px;background:#2962ff;color:#fff;border-radius:2px;font-weight:bold;">0.000</div><div class="lb" style="left:0px;top:2.5px;width:67px;height:20.5px;line-height:20.5px;background:#4caf50;color:#fff;border-radius:0 2px 2px 0;font-weight:bold;">−16.328</div><div class="lb" style="left:0px;top:23px;width:67px;height:20.5px;line-height:20.5px;background:#f23645;color:#fff;border-radius:0;font-weight:bold;">−50.000</div></div>
<div class="abs" style="left:1337px;top:723px;width:80px;height:43px;overflow:hidden"><div class="lb" style="left:0px;top:-17px;width:51px;height:20.5px;line-height:20.5px;background:#fdd835;color:#1c1c1c;border-radius:2px;">55.12</div><div class="lb" style="left:0px;top:3.5px;width:51px;height:20.5px;line-height:20.5px;background:#7e57c2;color:#fff;border-radius:2px;font-weight:bold;">53.46</div></div>
<div class="abs" style="left:1337px;top:767px;width:80px;height:45px;overflow:hidden"><div class="lb" style="left:0px;top:-11px;width:59px;height:20.5px;line-height:20.5px;background:#ff5252;color:#fff;border-radius:2px;font-weight:bold;">25.232</div><div class="lb" style="left:0px;top:9.5px;width:59px;height:20.5px;line-height:20.5px;background:#2962ff;color:#fff;border-radius:0;font-weight:bold;">24.446</div><div class="lb" style="left:0px;top:30px;width:59px;height:20.5px;line-height:20.5px;background:#fff;color:#1c1c1c;border-radius:0;">14.631</div></div>
<div class="tm" style="left:806px;top:821px"><b>21</b></div>
<div class="tm" style="left:893.5px;top:821px">12:00</div>
<div class="tm" style="left:979.5px;top:821px"><b>22</b></div>
<div class="tm" style="left:1066.5px;top:821px">12:00</div>
<div class="tm" style="left:1152px;top:821px"><b>25</b></div>
<div class="tm" style="left:1239px;top:821px">12:00</div>
<div class="tm" style="left:1325px;top:821px"><b>26</b></div>
</div>
<div class="jpy" style="left:681px;top:12px;width:84px;height:31px">JPY<svg class="abs" style="right:4.5px;top:12px" width="8" height="6" viewBox="0 0 8 6"><path d="M1 1l3 3L7 1" fill="none" stroke="#e8e8e8" stroke-width="1.5"/></svg></div>
<div class="jpy" style="left:1340.5px;top:12px;width:76px;height:31px;padding-left:3.5px">JPY<svg class="abs" style="right:4.5px;top:12px" width="8" height="6" viewBox="0 0 8 6"><path d="M1 1l3 3L7 1" fill="none" stroke="#e8e8e8" stroke-width="1.5"/></svg></div>
<div class="jpy" style="left:1340.5px;top:462px;width:76px;height:31px;padding-left:3.5px">JPY<svg class="abs" style="right:4.5px;top:12px" width="8" height="6" viewBox="0 0 8 6"><path d="M1 1l3 3L7 1" fill="none" stroke="#e8e8e8" stroke-width="1.5"/></svg></div>
<svg class="abs" style="left:18px;top:15.5px" width="23" height="23" viewBox="0 0 23 23"><defs><clipPath id="us18"><circle cx="8" cy="14.5" r="7"/></clipPath></defs><circle cx="15" cy="7.5" r="7" fill="#eef0f5"/><circle cx="15" cy="7.5" r="3" fill="#f0475a"/><circle cx="8" cy="14.5" r="8.3" fill="#000"/><g clip-path="url(#us18)"><rect x="0" y="7" width="16" height="15" fill="#fff"/><rect x="0" y="7.5" width="16" height="2.4" fill="#f0474a"/><rect x="0" y="12.3" width="16" height="2.4" fill="#f0474a"/><rect x="0" y="17.1" width="16" height="2.4" fill="#f0474a"/><rect x="0" y="7" width="9" height="8.2" fill="#2287e6"/></g></svg>
<div class="title" style="left:45px;top:16px"><span class="cj">米ドル／円</span><i>·</i>1<i>·</i><span class="la">OANDA</span></div>
<svg class="abs" style="left:254px;top:19.5px" width="15" height="15" viewBox="0 0 15 15"><path d="M0.5 0.5h13.5l-3.6 7 3.6 7H0.5z" fill="#ff5252"/></svg>
<div class="lg" style="left:19px;top:44px;width:46px;height:24.5px;line-height:23px;padding-left:24px"><svg width="10" height="6" viewBox="0 0 10 6" style="position:absolute;left:7px;top:9px"><path d="M1 1l4 3.6L9 1" fill="none" stroke="#d5d7dd" stroke-width="1.5"/></svg>13</div>
<svg class="abs" style="left:783px;top:15.5px" width="23" height="23" viewBox="0 0 23 23"><defs><clipPath id="us783"><circle cx="8" cy="14.5" r="7"/></clipPath></defs><circle cx="15" cy="7.5" r="7" fill="#eef0f5"/><circle cx="15" cy="7.5" r="3" fill="#f0475a"/><circle cx="8" cy="14.5" r="8.3" fill="#000"/><g clip-path="url(#us783)"><rect x="0" y="7" width="16" height="15" fill="#fff"/><rect x="0" y="7.5" width="16" height="2.4" fill="#f0474a"/><rect x="0" y="12.3" width="16" height="2.4" fill="#f0474a"/><rect x="0" y="17.1" width="16" height="2.4" fill="#f0474a"/><rect x="0" y="7" width="9" height="8.2" fill="#2287e6"/></g></svg>
<div class="title" style="left:810.5px;top:16px"><span class="cj">米ドル／円</span><i>·</i>15</div>
<svg class="abs" style="left:955px;top:19.5px" width="15" height="15" viewBox="0 0 15 15"><path d="M0.5 0.5h13.5l-3.6 7 3.6 7H0.5z" fill="#ff5252"/></svg>
<div class="lg" style="left:784.5px;top:44px;width:46px;height:24.5px;line-height:23px;padding-left:24px"><svg width="10" height="6" viewBox="0 0 10 6" style="position:absolute;left:7px;top:9px"><path d="M1 1l4 3.6L9 1" fill="none" stroke="#d5d7dd" stroke-width="1.5"/></svg>13</div>
<div class="abs" style="left:806px;top:464px;width:196px;height:26px;background:rgba(0,0,0,.62)"></div>
<svg class="abs" style="left:783px;top:465.5px" width="23" height="23" viewBox="0 0 23 23"><defs><clipPath id="us783"><circle cx="8" cy="14.5" r="7"/></clipPath></defs><circle cx="15" cy="7.5" r="7" fill="#eef0f5"/><circle cx="15" cy="7.5" r="3" fill="#f0475a"/><circle cx="8" cy="14.5" r="8.3" fill="#000"/><g clip-path="url(#us783)"><rect x="0" y="7" width="16" height="15" fill="#fff"/><rect x="0" y="7.5" width="16" height="2.4" fill="#f0474a"/><rect x="0" y="12.3" width="16" height="2.4" fill="#f0474a"/><rect x="0" y="17.1" width="16" height="2.4" fill="#f0474a"/><rect x="0" y="7" width="9" height="8.2" fill="#2287e6"/></g></svg>
<div class="title" style="left:810.5px;top:465.5px"><span class="cj">米ドル／円</span><i>·</i>1<span class="cj cj2">時間</span></div>
<svg class="abs" style="left:983px;top:469.5px" width="15" height="15" viewBox="0 0 15 15"><path d="M0.5 0.5h13.5l-3.6 7 3.6 7H0.5z" fill="#ff5252"/></svg>
<div class="lg" style="left:784.5px;top:494.5px;width:45px;height:24px;line-height:22px;padding-left:24px"><svg width="10" height="6" viewBox="0 0 10 6" style="position:absolute;left:7px;top:9px"><path d="M1 1l4 3.6L9 1" fill="none" stroke="#d5d7dd" stroke-width="1.5"/></svg>14</div>
<div class="lg" style="left:19px;top:656px;width:34px;height:24.5px;background:rgba(0,0,0,.78)"><svg width="12" height="7" viewBox="0 0 12 7" style="position:absolute;left:10.0px;top:7.75px"><path d="M1 1l5 4.6L11 1" fill="none" stroke="#e0e0e0" stroke-width="1.7"/></svg></div>
<div class="lg" style="left:784px;top:730.5px;width:34px;height:24px;background:rgba(0,0,0,.78)"><svg width="12" height="7" viewBox="0 0 12 7" style="position:absolute;left:10.0px;top:7.5px"><path d="M1 1l5 4.6L11 1" fill="none" stroke="#e0e0e0" stroke-width="1.7"/></svg></div>
<svg class="abs" style="left:21px;top:775px" width="38" height="21" viewBox="0 0 38 21"><path d="M1 1h13.5v19H8V7.5H1z" fill="#d9d9d9"/><circle cx="19.8" cy="4.4" r="3.5" fill="#d9d9d9"/><path d="M28.5 1H37l-8 19h-8.2z" fill="#d9d9d9"/></svg>
<svg class="abs" style="left:713px;top:819px" width="20" height="20" viewBox="0 0 20 20"><path d="M5.5 2.2h9L19 10l-4.5 7.8h-9L1 10z" fill="none" stroke="#b4b7c0" stroke-width="1.3"/><circle cx="10" cy="10" r="2.3" fill="none" stroke="#b4b7c0" stroke-width="1.3"/></svg>
<svg class="abs" style="left:1370px;top:819px" width="20" height="20" viewBox="0 0 20 20"><path d="M5.5 2.2h9L19 10l-4.5 7.8h-9L1 10z" fill="none" stroke="#b4b7c0" stroke-width="1.3"/><circle cx="10" cy="10" r="2.3" fill="none" stroke="#b4b7c0" stroke-width="1.3"/></svg>
<div class="tb" style="left:25px">1日</div>
<div class="tb" style="left:64px">5日</div>
<div class="tb" style="left:104px">1ヶ月</div>
<div class="tb" style="left:161px">3ヶ月</div>
<div class="tb" style="left:217px">6ヶ月</div>
<div class="tb" style="left:275px">年初来</div>
<div class="tb" style="left:340px">1年</div>
<div class="tb" style="left:379px">5年</div>
<div class="tb" style="left:421px">すべて</div>
<div class="abs" style="left:483px;top:856px;width:1px;height:26px;background:#3a3a3a"></div>
<svg class="abs" style="left:495px;top:853px" width="30" height="30" viewBox="0 0 30 30"><path d="M5.2 14.7V9.5a3 3 0 0 1 3-3H23.1a3 3 0 0 1 3 3V21.8a3 3 0 0 1-3 3H16M5.2 11.4H26.1M11.5 3.9V8.6M20 3.9V8.6M3.8 21.3H13M8.5 17.1L13 21.3L8.3 25.8" fill="none" stroke="#d0d2d8" stroke-width="1.3"/></svg>
<div class="tb" style="left:1245px">15:41:15 UTC+9</div>
<div class="abs" style="left:1375px;top:856px;width:1px;height:26px;background:#3a3a3a"></div>
<svg class="abs" style="left:1388px;top:858px" width="22" height="22" viewBox="0 0 22 22"><path d="M11.5 2.7H18.2V9.5M2.5 11.5V18.2H9.5" fill="none" stroke="#d0d2d8" stroke-width="1.3"/></svg>
</body></html>
